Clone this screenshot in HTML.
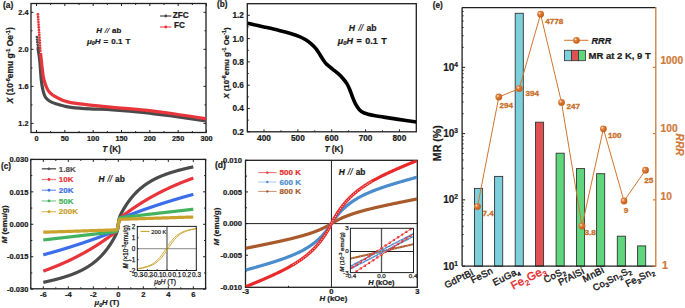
<!DOCTYPE html>
<html><head><meta charset="utf-8"><style>
html,body{margin:0;padding:0;background:#fff;width:685px;height:308px;overflow:hidden}
svg{display:block}
text{font-family:"Liberation Sans", sans-serif}
</style></head><body>
<svg width="685" height="308" viewBox="0 0 685 308">
<rect width="685" height="308" fill="#fff"/>
<line x1="36.50" y1="132.50" x2="36.50" y2="130.00" stroke="#1f1f1f" stroke-width="1" />
<line x1="36.50" y1="3.50" x2="36.50" y2="6.00" stroke="#1f1f1f" stroke-width="1" />
<line x1="50.67" y1="132.50" x2="50.67" y2="131.00" stroke="#1f1f1f" stroke-width="1" />
<line x1="50.67" y1="3.50" x2="50.67" y2="5.00" stroke="#1f1f1f" stroke-width="1" />
<line x1="64.83" y1="132.50" x2="64.83" y2="130.00" stroke="#1f1f1f" stroke-width="1" />
<line x1="64.83" y1="3.50" x2="64.83" y2="6.00" stroke="#1f1f1f" stroke-width="1" />
<line x1="79.00" y1="132.50" x2="79.00" y2="131.00" stroke="#1f1f1f" stroke-width="1" />
<line x1="79.00" y1="3.50" x2="79.00" y2="5.00" stroke="#1f1f1f" stroke-width="1" />
<line x1="93.17" y1="132.50" x2="93.17" y2="130.00" stroke="#1f1f1f" stroke-width="1" />
<line x1="93.17" y1="3.50" x2="93.17" y2="6.00" stroke="#1f1f1f" stroke-width="1" />
<line x1="107.33" y1="132.50" x2="107.33" y2="131.00" stroke="#1f1f1f" stroke-width="1" />
<line x1="107.33" y1="3.50" x2="107.33" y2="5.00" stroke="#1f1f1f" stroke-width="1" />
<line x1="121.50" y1="132.50" x2="121.50" y2="130.00" stroke="#1f1f1f" stroke-width="1" />
<line x1="121.50" y1="3.50" x2="121.50" y2="6.00" stroke="#1f1f1f" stroke-width="1" />
<line x1="135.67" y1="132.50" x2="135.67" y2="131.00" stroke="#1f1f1f" stroke-width="1" />
<line x1="135.67" y1="3.50" x2="135.67" y2="5.00" stroke="#1f1f1f" stroke-width="1" />
<line x1="149.83" y1="132.50" x2="149.83" y2="130.00" stroke="#1f1f1f" stroke-width="1" />
<line x1="149.83" y1="3.50" x2="149.83" y2="6.00" stroke="#1f1f1f" stroke-width="1" />
<line x1="164.00" y1="132.50" x2="164.00" y2="131.00" stroke="#1f1f1f" stroke-width="1" />
<line x1="164.00" y1="3.50" x2="164.00" y2="5.00" stroke="#1f1f1f" stroke-width="1" />
<line x1="178.17" y1="132.50" x2="178.17" y2="130.00" stroke="#1f1f1f" stroke-width="1" />
<line x1="178.17" y1="3.50" x2="178.17" y2="6.00" stroke="#1f1f1f" stroke-width="1" />
<line x1="192.33" y1="132.50" x2="192.33" y2="131.00" stroke="#1f1f1f" stroke-width="1" />
<line x1="192.33" y1="3.50" x2="192.33" y2="5.00" stroke="#1f1f1f" stroke-width="1" />
<line x1="206.50" y1="132.50" x2="206.50" y2="130.00" stroke="#1f1f1f" stroke-width="1" />
<line x1="206.50" y1="3.50" x2="206.50" y2="6.00" stroke="#1f1f1f" stroke-width="1" />
<line x1="31.00" y1="123.40" x2="33.50" y2="123.40" stroke="#1f1f1f" stroke-width="1" />
<line x1="206.00" y1="123.40" x2="203.50" y2="123.40" stroke="#1f1f1f" stroke-width="1" />
<text x="28.50" y="126.00" font-size="7.3" text-anchor="end" font-weight="bold" font-style="normal" fill="#1a1a1a"  stroke="#1a1a1a" stroke-width="0.22">1.2</text>
<line x1="31.00" y1="104.88" x2="32.50" y2="104.88" stroke="#1f1f1f" stroke-width="1" />
<line x1="206.00" y1="104.88" x2="204.50" y2="104.88" stroke="#1f1f1f" stroke-width="1" />
<line x1="31.00" y1="86.37" x2="33.50" y2="86.37" stroke="#1f1f1f" stroke-width="1" />
<line x1="206.00" y1="86.37" x2="203.50" y2="86.37" stroke="#1f1f1f" stroke-width="1" />
<text x="28.50" y="88.97" font-size="7.3" text-anchor="end" font-weight="bold" font-style="normal" fill="#1a1a1a"  stroke="#1a1a1a" stroke-width="0.22">1.6</text>
<line x1="31.00" y1="67.85" x2="32.50" y2="67.85" stroke="#1f1f1f" stroke-width="1" />
<line x1="206.00" y1="67.85" x2="204.50" y2="67.85" stroke="#1f1f1f" stroke-width="1" />
<line x1="31.00" y1="49.33" x2="33.50" y2="49.33" stroke="#1f1f1f" stroke-width="1" />
<line x1="206.00" y1="49.33" x2="203.50" y2="49.33" stroke="#1f1f1f" stroke-width="1" />
<text x="28.50" y="51.93" font-size="7.3" text-anchor="end" font-weight="bold" font-style="normal" fill="#1a1a1a"  stroke="#1a1a1a" stroke-width="0.22">2.0</text>
<line x1="31.00" y1="30.82" x2="32.50" y2="30.82" stroke="#1f1f1f" stroke-width="1" />
<line x1="206.00" y1="30.82" x2="204.50" y2="30.82" stroke="#1f1f1f" stroke-width="1" />
<line x1="31.00" y1="12.30" x2="33.50" y2="12.30" stroke="#1f1f1f" stroke-width="1" />
<line x1="206.00" y1="12.30" x2="203.50" y2="12.30" stroke="#1f1f1f" stroke-width="1" />
<text x="28.50" y="14.90" font-size="7.3" text-anchor="end" font-weight="bold" font-style="normal" fill="#1a1a1a"  stroke="#1a1a1a" stroke-width="0.22">2.4</text>
<line x1="31.00" y1="-6.22" x2="32.50" y2="-6.22" stroke="#1f1f1f" stroke-width="1" />
<line x1="206.00" y1="-6.22" x2="204.50" y2="-6.22" stroke="#1f1f1f" stroke-width="1" />
<text x="36.50" y="140.60" font-size="7.3" text-anchor="middle" font-weight="bold" font-style="normal" fill="#1a1a1a"  stroke="#1a1a1a" stroke-width="0.22">0</text>
<text x="64.83" y="140.60" font-size="7.3" text-anchor="middle" font-weight="bold" font-style="normal" fill="#1a1a1a"  stroke="#1a1a1a" stroke-width="0.22">50</text>
<text x="93.17" y="140.60" font-size="7.3" text-anchor="middle" font-weight="bold" font-style="normal" fill="#1a1a1a"  stroke="#1a1a1a" stroke-width="0.22">100</text>
<text x="121.50" y="140.60" font-size="7.3" text-anchor="middle" font-weight="bold" font-style="normal" fill="#1a1a1a"  stroke="#1a1a1a" stroke-width="0.22">150</text>
<text x="149.83" y="140.60" font-size="7.3" text-anchor="middle" font-weight="bold" font-style="normal" fill="#1a1a1a"  stroke="#1a1a1a" stroke-width="0.22">200</text>
<text x="178.17" y="140.60" font-size="7.3" text-anchor="middle" font-weight="bold" font-style="normal" fill="#1a1a1a"  stroke="#1a1a1a" stroke-width="0.22">250</text>
<text x="206.50" y="140.60" font-size="7.3" text-anchor="middle" font-weight="bold" font-style="normal" fill="#1a1a1a"  stroke="#1a1a1a" stroke-width="0.22">300</text>
<rect x="31.00" y="3.50" width="175.00" height="129.00" fill="none" stroke="#1f1f1f" stroke-width="1.3" />
<clipPath id="ca"><rect x="31" y="3.5" width="175.5" height="129"/></clipPath>
<path d="M38.00,48.00 C38.28,50.00 39.28,56.33 39.70,60.00 C40.12,63.67 40.23,66.67 40.50,70.00 C40.77,73.33 40.90,76.67 41.30,80.00 C41.70,83.33 42.23,87.17 42.90,90.00 C43.57,92.83 44.22,95.17 45.30,97.00 C46.38,98.83 47.50,99.83 49.40,101.00 C51.30,102.17 54.27,103.17 56.70,104.00 C59.13,104.83 61.62,105.45 64.00,106.00 C66.38,106.55 66.67,106.83 71.00,107.30 C75.33,107.77 83.00,108.38 90.00,108.80 C97.00,109.22 103.83,109.17 113.00,109.80 C122.17,110.43 134.67,111.48 145.00,112.60 C155.33,113.72 164.83,115.13 175.00,116.50 C185.17,117.87 200.83,120.08 206.00,120.80" fill="none" stroke="#4a4a4a" stroke-width="3.2" stroke-linejoin="round" stroke-linecap="butt" clip-path="url(#ca)"/>
<path d="M40.50,53.00 C40.63,54.17 40.98,57.17 41.30,60.00 C41.62,62.83 41.95,66.67 42.40,70.00 C42.85,73.33 43.10,76.67 44.00,80.00 C44.90,83.33 46.37,87.50 47.80,90.00 C49.23,92.50 50.57,93.50 52.60,95.00 C54.63,96.50 58.10,98.03 60.00,99.00 C61.90,99.97 62.17,100.20 64.00,100.80 C65.83,101.40 67.00,101.93 71.00,102.60 C75.00,103.27 81.00,104.02 88.00,104.80 C95.00,105.58 103.50,106.40 113.00,107.30 C122.50,108.20 134.67,109.08 145.00,110.20 C155.33,111.32 164.83,112.57 175.00,114.00 C185.17,115.43 200.83,118.00 206.00,118.80" fill="none" stroke="#e8353b" stroke-width="3.2" stroke-linejoin="round" stroke-linecap="butt" clip-path="url(#ca)"/>
<circle cx="37.91" cy="14.30" r="1.35" fill="#e8353b" />
<circle cx="38.09" cy="16.90" r="1.35" fill="#e8353b" />
<circle cx="38.26" cy="19.50" r="1.35" fill="#e8353b" />
<circle cx="38.43" cy="22.10" r="1.35" fill="#e8353b" />
<circle cx="38.61" cy="24.70" r="1.35" fill="#e8353b" />
<circle cx="38.78" cy="27.30" r="1.35" fill="#e8353b" />
<circle cx="38.96" cy="29.90" r="1.35" fill="#e8353b" />
<circle cx="39.13" cy="32.50" r="1.35" fill="#e8353b" />
<circle cx="39.30" cy="35.10" r="1.35" fill="#e8353b" />
<circle cx="39.48" cy="37.70" r="1.35" fill="#e8353b" />
<circle cx="39.65" cy="40.30" r="1.35" fill="#e8353b" />
<circle cx="39.82" cy="42.90" r="1.35" fill="#e8353b" />
<circle cx="40.00" cy="45.50" r="1.35" fill="#e8353b" />
<circle cx="40.17" cy="48.10" r="1.35" fill="#e8353b" />
<circle cx="40.35" cy="50.70" r="1.35" fill="#e8353b" />
<circle cx="36.90" cy="37.00" r="1.35" fill="#4a4a4a" />
<circle cx="37.16" cy="39.60" r="1.35" fill="#4a4a4a" />
<circle cx="37.42" cy="42.20" r="1.35" fill="#4a4a4a" />
<circle cx="37.68" cy="44.80" r="1.35" fill="#4a4a4a" />
<circle cx="37.94" cy="47.40" r="1.35" fill="#4a4a4a" />
<line x1="160.00" y1="16.00" x2="171.40" y2="16.00" stroke="#5a5a5a" stroke-width="1.3" />
<circle cx="165.80" cy="16.00" r="1.4" fill="#4a4a4a" />
<line x1="160.00" y1="27.00" x2="171.40" y2="27.00" stroke="#f06068" stroke-width="1.3" />
<circle cx="165.80" cy="27.00" r="1.4" fill="#e8353b" />
<text x="172.70" y="17.90" font-size="8.2" text-anchor="start" font-weight="bold" font-style="normal" fill="#1a1a1a"  stroke="#1a1a1a" stroke-width="0.22">ZFC</text>
<text x="174.00" y="27.80" font-size="8.2" text-anchor="start" font-weight="bold" font-style="normal" fill="#1a1a1a"  stroke="#1a1a1a" stroke-width="0.22">FC</text>
<text x="108.70" y="33.10" font-size="7.9" text-anchor="middle" font-weight="bold" font-style="normal" fill="#1a1a1a" word-spacing="0.7" stroke="#1a1a1a" stroke-width="0.22"><tspan font-style="italic">H</tspan> <tspan font-style="italic" font-weight="normal">//</tspan> ab</text>
<text x="108.70" y="43.60" font-size="8.0" text-anchor="middle" font-weight="bold" font-style="normal" fill="#1a1a1a" word-spacing="0.9" stroke="#1a1a1a" stroke-width="0.22"><tspan font-style="italic">μ</tspan><tspan font-size="5.2" dy="1.5" font-style="italic">0</tspan><tspan dy="-1.5" font-style="italic">H</tspan> = 0.1 T</text>
<text x="111.50" y="151.60" font-size="8.2" text-anchor="middle" font-weight="bold" font-style="normal" fill="#1a1a1a"  stroke="#1a1a1a" stroke-width="0.22"><tspan font-style="italic">T</tspan> (K)</text>
<text x="3.00" y="7.60" font-size="8.4" text-anchor="start" font-weight="bold" font-style="normal" fill="#1a1a1a"  stroke="#1a1a1a" stroke-width="0.22">(a)</text>
<text x="0.00" y="0.00" font-size="8.4" text-anchor="middle" font-weight="bold" font-style="normal" fill="#1a1a1a" transform="translate(13.0,65.2) rotate(-90)" stroke="#1a1a1a" stroke-width="0.22"><tspan font-style="italic">X</tspan> (10<tspan font-size="5.6" dy="-3.2">-6</tspan><tspan dy="3.2">emu g</tspan><tspan font-size="5.6" dy="-3.2">-1</tspan><tspan dy="3.2"> Oe</tspan><tspan font-size="5.6" dy="-3.2">-1</tspan><tspan dy="3.2">)</tspan></text>
<line x1="264.00" y1="131.80" x2="264.00" y2="129.30" stroke="#1f1f1f" stroke-width="1" />
<text x="264.00" y="140.90" font-size="8.3" text-anchor="middle" font-weight="bold" font-style="normal" fill="#1a1a1a"  stroke="#1a1a1a" stroke-width="0.22">400</text>
<line x1="280.93" y1="131.80" x2="280.93" y2="130.30" stroke="#1f1f1f" stroke-width="1" />
<line x1="297.85" y1="131.80" x2="297.85" y2="129.30" stroke="#1f1f1f" stroke-width="1" />
<text x="297.85" y="140.90" font-size="8.3" text-anchor="middle" font-weight="bold" font-style="normal" fill="#1a1a1a"  stroke="#1a1a1a" stroke-width="0.22">500</text>
<line x1="314.77" y1="131.80" x2="314.77" y2="130.30" stroke="#1f1f1f" stroke-width="1" />
<line x1="331.70" y1="131.80" x2="331.70" y2="129.30" stroke="#1f1f1f" stroke-width="1" />
<text x="331.70" y="140.90" font-size="8.3" text-anchor="middle" font-weight="bold" font-style="normal" fill="#1a1a1a"  stroke="#1a1a1a" stroke-width="0.22">600</text>
<line x1="348.62" y1="131.80" x2="348.62" y2="130.30" stroke="#1f1f1f" stroke-width="1" />
<line x1="365.55" y1="131.80" x2="365.55" y2="129.30" stroke="#1f1f1f" stroke-width="1" />
<text x="365.55" y="140.90" font-size="8.3" text-anchor="middle" font-weight="bold" font-style="normal" fill="#1a1a1a"  stroke="#1a1a1a" stroke-width="0.22">700</text>
<line x1="382.48" y1="131.80" x2="382.48" y2="130.30" stroke="#1f1f1f" stroke-width="1" />
<line x1="399.40" y1="131.80" x2="399.40" y2="129.30" stroke="#1f1f1f" stroke-width="1" />
<text x="399.40" y="140.90" font-size="8.3" text-anchor="middle" font-weight="bold" font-style="normal" fill="#1a1a1a"  stroke="#1a1a1a" stroke-width="0.22">800</text>
<line x1="247.30" y1="131.80" x2="249.80" y2="131.80" stroke="#1f1f1f" stroke-width="1" />
<text x="243.80" y="134.75" font-size="8.2" text-anchor="end" font-weight="bold" font-style="normal" fill="#1a1a1a"  stroke="#1a1a1a" stroke-width="0.22">0.2</text>
<line x1="247.30" y1="120.15" x2="248.80" y2="120.15" stroke="#1f1f1f" stroke-width="1" />
<line x1="247.30" y1="108.50" x2="249.80" y2="108.50" stroke="#1f1f1f" stroke-width="1" />
<text x="243.80" y="111.45" font-size="8.2" text-anchor="end" font-weight="bold" font-style="normal" fill="#1a1a1a"  stroke="#1a1a1a" stroke-width="0.22">0.4</text>
<line x1="247.30" y1="96.85" x2="248.80" y2="96.85" stroke="#1f1f1f" stroke-width="1" />
<line x1="247.30" y1="85.20" x2="249.80" y2="85.20" stroke="#1f1f1f" stroke-width="1" />
<text x="243.80" y="88.15" font-size="8.2" text-anchor="end" font-weight="bold" font-style="normal" fill="#1a1a1a"  stroke="#1a1a1a" stroke-width="0.22">0.6</text>
<line x1="247.30" y1="73.55" x2="248.80" y2="73.55" stroke="#1f1f1f" stroke-width="1" />
<line x1="247.30" y1="61.90" x2="249.80" y2="61.90" stroke="#1f1f1f" stroke-width="1" />
<text x="243.80" y="64.85" font-size="8.2" text-anchor="end" font-weight="bold" font-style="normal" fill="#1a1a1a"  stroke="#1a1a1a" stroke-width="0.22">0.8</text>
<line x1="247.30" y1="50.25" x2="248.80" y2="50.25" stroke="#1f1f1f" stroke-width="1" />
<line x1="247.30" y1="38.60" x2="249.80" y2="38.60" stroke="#1f1f1f" stroke-width="1" />
<text x="243.80" y="41.55" font-size="8.2" text-anchor="end" font-weight="bold" font-style="normal" fill="#1a1a1a"  stroke="#1a1a1a" stroke-width="0.22">1.0</text>
<line x1="247.30" y1="26.95" x2="248.80" y2="26.95" stroke="#1f1f1f" stroke-width="1" />
<line x1="247.30" y1="15.30" x2="249.80" y2="15.30" stroke="#1f1f1f" stroke-width="1" />
<text x="243.80" y="18.25" font-size="8.2" text-anchor="end" font-weight="bold" font-style="normal" fill="#1a1a1a"  stroke="#1a1a1a" stroke-width="0.22">1.2</text>
<rect x="247.30" y="3.70" width="169.00" height="128.10" fill="none" stroke="#1f1f1f" stroke-width="1.3" />
<clipPath id="cb"><rect x="247.3" y="3.7" width="169" height="128.1"/></clipPath>
<path d="M247.50,23.30 C250.25,23.92 258.58,25.77 264.00,27.00 C269.42,28.23 275.72,29.65 280.00,30.70 C284.28,31.75 286.45,32.32 289.70,33.30 C292.95,34.28 296.90,35.57 299.50,36.60 C302.10,37.63 303.35,38.30 305.30,39.50 C307.25,40.70 309.40,42.25 311.20,43.80 C313.00,45.35 314.63,46.98 316.10,48.80 C317.57,50.62 318.80,52.83 320.00,54.70 C321.20,56.57 322.17,58.38 323.30,60.00 C324.43,61.62 325.25,62.88 326.80,64.40 C328.35,65.92 330.65,67.52 332.60,69.10 C334.55,70.68 336.85,72.42 338.50,73.90 C340.15,75.38 341.13,76.42 342.50,78.00 C343.87,79.58 345.52,81.53 346.70,83.40 C347.88,85.27 348.63,86.93 349.60,89.20 C350.57,91.47 351.52,94.55 352.50,97.00 C353.48,99.45 354.35,101.78 355.50,103.90 C356.65,106.02 357.95,108.18 359.40,109.70 C360.85,111.22 361.77,112.02 364.20,113.00 C366.63,113.98 370.75,114.92 374.00,115.60 C377.25,116.28 379.63,116.47 383.70,117.10 C387.77,117.73 392.93,118.58 398.40,119.40 C403.87,120.22 413.48,121.57 416.50,122.00" fill="none" stroke="#000" stroke-width="3.6" stroke-linejoin="round" stroke-linecap="butt" clip-path="url(#cb)"/>
<text x="362.70" y="30.80" font-size="8.6" text-anchor="middle" font-weight="bold" font-style="normal" fill="#1a1a1a" word-spacing="1" stroke="#1a1a1a" stroke-width="0.22"><tspan font-style="italic">H</tspan> <tspan font-style="italic" font-weight="normal">//</tspan> ab</text>
<text x="362.20" y="43.50" font-size="9.0" text-anchor="middle" font-weight="bold" font-style="normal" fill="#1a1a1a" word-spacing="1" stroke="#1a1a1a" stroke-width="0.22"><tspan font-style="italic">μ</tspan><tspan font-size="5.8" dy="1.5" font-style="italic">0</tspan><tspan dy="-1.5" font-style="italic">H</tspan> = 0.1 T</text>
<text x="333.80" y="151.60" font-size="8.2" text-anchor="middle" font-weight="bold" font-style="normal" fill="#1a1a1a"  stroke="#1a1a1a" stroke-width="0.22"><tspan font-style="italic">T</tspan> (K)</text>
<text x="217.00" y="7.30" font-size="8.2" text-anchor="start" font-weight="bold" font-style="normal" fill="#1a1a1a"  stroke="#1a1a1a" stroke-width="0.22">(b)</text>
<text x="0.00" y="0.00" font-size="7.8" text-anchor="middle" font-weight="bold" font-style="normal" fill="#1a1a1a" transform="translate(228.8,63.0) rotate(-90)" stroke="#1a1a1a" stroke-width="0.22"><tspan font-style="italic">X</tspan> (10<tspan font-size="5.4" dy="-3.1">-6</tspan><tspan dy="3.1">emu g</tspan><tspan font-size="5.4" dy="-3.1">-1</tspan><tspan dy="3.1"> Oe</tspan><tspan font-size="5.4" dy="-3.1">-1</tspan><tspan dy="3.1">)</tspan></text>
<line x1="30.80" y1="288.80" x2="30.80" y2="287.30" stroke="#1f1f1f" stroke-width="1" />
<line x1="30.80" y1="159.40" x2="30.80" y2="160.90" stroke="#1f1f1f" stroke-width="1" />
<line x1="43.30" y1="288.80" x2="43.30" y2="286.30" stroke="#1f1f1f" stroke-width="1" />
<line x1="43.30" y1="159.40" x2="43.30" y2="161.90" stroke="#1f1f1f" stroke-width="1" />
<text x="43.30" y="297.00" font-size="7.6" text-anchor="middle" font-weight="bold" font-style="normal" fill="#1a1a1a"  stroke="#1a1a1a" stroke-width="0.22">-6</text>
<line x1="55.80" y1="288.80" x2="55.80" y2="287.30" stroke="#1f1f1f" stroke-width="1" />
<line x1="55.80" y1="159.40" x2="55.80" y2="160.90" stroke="#1f1f1f" stroke-width="1" />
<line x1="68.30" y1="288.80" x2="68.30" y2="286.30" stroke="#1f1f1f" stroke-width="1" />
<line x1="68.30" y1="159.40" x2="68.30" y2="161.90" stroke="#1f1f1f" stroke-width="1" />
<text x="68.30" y="297.00" font-size="7.6" text-anchor="middle" font-weight="bold" font-style="normal" fill="#1a1a1a"  stroke="#1a1a1a" stroke-width="0.22">-4</text>
<line x1="80.80" y1="288.80" x2="80.80" y2="287.30" stroke="#1f1f1f" stroke-width="1" />
<line x1="80.80" y1="159.40" x2="80.80" y2="160.90" stroke="#1f1f1f" stroke-width="1" />
<line x1="93.30" y1="288.80" x2="93.30" y2="286.30" stroke="#1f1f1f" stroke-width="1" />
<line x1="93.30" y1="159.40" x2="93.30" y2="161.90" stroke="#1f1f1f" stroke-width="1" />
<text x="93.30" y="297.00" font-size="7.6" text-anchor="middle" font-weight="bold" font-style="normal" fill="#1a1a1a"  stroke="#1a1a1a" stroke-width="0.22">-2</text>
<line x1="105.80" y1="288.80" x2="105.80" y2="287.30" stroke="#1f1f1f" stroke-width="1" />
<line x1="105.80" y1="159.40" x2="105.80" y2="160.90" stroke="#1f1f1f" stroke-width="1" />
<line x1="118.30" y1="288.80" x2="118.30" y2="286.30" stroke="#1f1f1f" stroke-width="1" />
<line x1="118.30" y1="159.40" x2="118.30" y2="161.90" stroke="#1f1f1f" stroke-width="1" />
<text x="118.30" y="297.00" font-size="7.6" text-anchor="middle" font-weight="bold" font-style="normal" fill="#1a1a1a"  stroke="#1a1a1a" stroke-width="0.22">0</text>
<line x1="130.80" y1="288.80" x2="130.80" y2="287.30" stroke="#1f1f1f" stroke-width="1" />
<line x1="130.80" y1="159.40" x2="130.80" y2="160.90" stroke="#1f1f1f" stroke-width="1" />
<line x1="143.30" y1="288.80" x2="143.30" y2="286.30" stroke="#1f1f1f" stroke-width="1" />
<line x1="143.30" y1="159.40" x2="143.30" y2="161.90" stroke="#1f1f1f" stroke-width="1" />
<text x="143.30" y="297.00" font-size="7.6" text-anchor="middle" font-weight="bold" font-style="normal" fill="#1a1a1a"  stroke="#1a1a1a" stroke-width="0.22">2</text>
<line x1="155.80" y1="288.80" x2="155.80" y2="287.30" stroke="#1f1f1f" stroke-width="1" />
<line x1="155.80" y1="159.40" x2="155.80" y2="160.90" stroke="#1f1f1f" stroke-width="1" />
<line x1="168.30" y1="288.80" x2="168.30" y2="286.30" stroke="#1f1f1f" stroke-width="1" />
<line x1="168.30" y1="159.40" x2="168.30" y2="161.90" stroke="#1f1f1f" stroke-width="1" />
<text x="168.30" y="297.00" font-size="7.6" text-anchor="middle" font-weight="bold" font-style="normal" fill="#1a1a1a"  stroke="#1a1a1a" stroke-width="0.22">4</text>
<line x1="180.80" y1="288.80" x2="180.80" y2="287.30" stroke="#1f1f1f" stroke-width="1" />
<line x1="180.80" y1="159.40" x2="180.80" y2="160.90" stroke="#1f1f1f" stroke-width="1" />
<line x1="193.30" y1="288.80" x2="193.30" y2="286.30" stroke="#1f1f1f" stroke-width="1" />
<line x1="193.30" y1="159.40" x2="193.30" y2="161.90" stroke="#1f1f1f" stroke-width="1" />
<text x="193.30" y="297.00" font-size="7.6" text-anchor="middle" font-weight="bold" font-style="normal" fill="#1a1a1a"  stroke="#1a1a1a" stroke-width="0.22">6</text>
<line x1="205.80" y1="288.80" x2="205.80" y2="287.30" stroke="#1f1f1f" stroke-width="1" />
<line x1="205.80" y1="159.40" x2="205.80" y2="160.90" stroke="#1f1f1f" stroke-width="1" />
<line x1="30.80" y1="289.20" x2="33.30" y2="289.20" stroke="#1f1f1f" stroke-width="1" />
<line x1="205.60" y1="289.20" x2="203.10" y2="289.20" stroke="#1f1f1f" stroke-width="1" />
<text x="28.40" y="291.90" font-size="7.5" text-anchor="end" font-weight="bold" font-style="normal" fill="#1a1a1a"  stroke="#1a1a1a" stroke-width="0.22">-0.030</text>
<line x1="30.80" y1="272.98" x2="32.30" y2="272.98" stroke="#1f1f1f" stroke-width="1" />
<line x1="205.60" y1="272.98" x2="204.10" y2="272.98" stroke="#1f1f1f" stroke-width="1" />
<line x1="30.80" y1="256.75" x2="33.30" y2="256.75" stroke="#1f1f1f" stroke-width="1" />
<line x1="205.60" y1="256.75" x2="203.10" y2="256.75" stroke="#1f1f1f" stroke-width="1" />
<text x="28.40" y="259.45" font-size="7.5" text-anchor="end" font-weight="bold" font-style="normal" fill="#1a1a1a"  stroke="#1a1a1a" stroke-width="0.22">-0.015</text>
<line x1="30.80" y1="240.53" x2="32.30" y2="240.53" stroke="#1f1f1f" stroke-width="1" />
<line x1="205.60" y1="240.53" x2="204.10" y2="240.53" stroke="#1f1f1f" stroke-width="1" />
<line x1="30.80" y1="224.30" x2="33.30" y2="224.30" stroke="#1f1f1f" stroke-width="1" />
<line x1="205.60" y1="224.30" x2="203.10" y2="224.30" stroke="#1f1f1f" stroke-width="1" />
<text x="28.40" y="227.00" font-size="7.5" text-anchor="end" font-weight="bold" font-style="normal" fill="#1a1a1a"  stroke="#1a1a1a" stroke-width="0.22">0.000</text>
<line x1="30.80" y1="208.08" x2="32.30" y2="208.08" stroke="#1f1f1f" stroke-width="1" />
<line x1="205.60" y1="208.08" x2="204.10" y2="208.08" stroke="#1f1f1f" stroke-width="1" />
<line x1="30.80" y1="191.85" x2="33.30" y2="191.85" stroke="#1f1f1f" stroke-width="1" />
<line x1="205.60" y1="191.85" x2="203.10" y2="191.85" stroke="#1f1f1f" stroke-width="1" />
<text x="28.40" y="194.55" font-size="7.5" text-anchor="end" font-weight="bold" font-style="normal" fill="#1a1a1a"  stroke="#1a1a1a" stroke-width="0.22">0.015</text>
<line x1="30.80" y1="175.62" x2="32.30" y2="175.62" stroke="#1f1f1f" stroke-width="1" />
<line x1="205.60" y1="175.62" x2="204.10" y2="175.62" stroke="#1f1f1f" stroke-width="1" />
<line x1="30.80" y1="159.40" x2="33.30" y2="159.40" stroke="#1f1f1f" stroke-width="1" />
<line x1="205.60" y1="159.40" x2="203.10" y2="159.40" stroke="#1f1f1f" stroke-width="1" />
<text x="28.40" y="162.10" font-size="7.5" text-anchor="end" font-weight="bold" font-style="normal" fill="#1a1a1a"  stroke="#1a1a1a" stroke-width="0.22">0.030</text>
<rect x="30.80" y="159.40" width="174.80" height="129.40" fill="none" stroke="#1f1f1f" stroke-width="1.3" />
<clipPath id="cc"><rect x="30.8" y="159.4" width="174.8" height="129.4"/></clipPath>
<path d="M43.30,282.33 L43.61,282.27 L43.92,282.20 L44.24,282.13 L44.55,282.07 L44.86,282.00 L45.17,281.93 L45.49,281.87 L45.80,281.80 L46.11,281.73 L46.42,281.66 L46.74,281.59 L47.05,281.52 L47.36,281.45 L47.67,281.38 L47.99,281.31 L48.30,281.24 L48.61,281.17 L48.92,281.10 L49.24,281.03 L49.55,280.96 L49.86,280.89 L50.17,280.81 L50.49,280.74 L50.80,280.67 L51.11,280.60 L51.42,280.52 L51.74,280.45 L52.05,280.37 L52.36,280.30 L52.67,280.22 L52.99,280.15 L53.30,280.07 L53.61,279.99 L53.92,279.92 L54.24,279.84 L54.55,279.76 L54.86,279.68 L55.17,279.60 L55.49,279.52 L55.80,279.44 L56.11,279.36 L56.42,279.28 L56.74,279.20 L57.05,279.12 L57.36,279.04 L57.68,278.95 L57.99,278.87 L58.30,278.79 L58.61,278.70 L58.92,278.62 L59.24,278.53 L59.55,278.44 L59.86,278.36 L60.17,278.27 L60.49,278.18 L60.80,278.09 L61.11,278.00 L61.42,277.91 L61.74,277.82 L62.05,277.73 L62.36,277.64 L62.67,277.55 L62.99,277.46 L63.30,277.36 L63.61,277.27 L63.93,277.17 L64.24,277.08 L64.55,276.98 L64.86,276.88 L65.17,276.79 L65.49,276.69 L65.80,276.59 L66.11,276.49 L66.42,276.39 L66.74,276.29 L67.05,276.18 L67.36,276.08 L67.67,275.98 L67.99,275.87 L68.30,275.77 L68.61,275.66 L68.92,275.55 L69.24,275.44 L69.55,275.33 L69.86,275.22 L70.17,275.11 L70.49,275.00 L70.80,274.89 L71.11,274.77 L71.42,274.66 L71.74,274.54 L72.05,274.42 L72.36,274.31 L72.67,274.19 L72.99,274.07 L73.30,273.94 L73.61,273.82 L73.92,273.70 L74.24,273.57 L74.55,273.45 L74.86,273.32 L75.17,273.19 L75.49,273.06 L75.80,272.93 L76.11,272.80 L76.43,272.67 L76.74,272.53 L77.05,272.40 L77.36,272.26 L77.67,272.12 L77.99,271.98 L78.30,271.84 L78.61,271.70 L78.92,271.56 L79.24,271.41 L79.55,271.26 L79.86,271.12 L80.17,270.97 L80.49,270.81 L80.80,270.66 L81.11,270.51 L81.42,270.35 L81.74,270.19 L82.05,270.04 L82.36,269.87 L82.68,269.71 L82.99,269.55 L83.30,269.38 L83.61,269.21 L83.92,269.04 L84.24,268.87 L84.55,268.70 L84.86,268.53 L85.17,268.35 L85.49,268.17 L85.80,267.99 L86.11,267.81 L86.42,267.62 L86.74,267.43 L87.05,267.25 L87.36,267.05 L87.67,266.86 L87.99,266.67 L88.30,266.47 L88.61,266.27 L88.92,266.07 L89.24,265.86 L89.55,265.65 L89.86,265.45 L90.17,265.23 L90.49,265.02 L90.80,264.80 L91.11,264.59 L91.42,264.36 L91.74,264.14 L92.05,263.91 L92.36,263.68 L92.67,263.45 L92.99,263.22 L93.30,262.98 L93.61,262.74 L93.92,262.49 L94.24,262.25 L94.55,262.00 L94.86,261.75 L95.17,261.49 L95.49,261.23 L95.80,260.97 L96.11,260.71 L96.42,260.44 L96.74,260.17 L97.05,259.89 L97.36,259.61 L97.68,259.33 L97.99,259.05 L98.30,258.76 L98.61,258.47 L98.92,258.17 L99.24,257.87 L99.55,257.57 L99.86,257.26 L100.17,256.95 L100.49,256.64 L100.80,256.32 L101.11,255.99 L101.42,255.67 L101.74,255.34 L102.05,255.00 L102.36,254.66 L102.67,254.32 L102.99,253.97 L103.30,253.62 L103.61,253.26 L103.93,252.90 L104.24,252.53 L104.55,252.16 L104.86,251.78 L105.17,251.40 L105.49,251.01 L105.80,250.62 L106.11,250.22 L106.43,249.82 L106.74,249.42 L107.05,249.00 L107.36,248.59 L107.67,248.16 L107.99,247.73 L108.30,247.30 L108.61,246.86 L108.92,246.41 L109.24,245.96 L109.55,245.50 L109.86,245.04 L110.18,244.56 L110.49,244.09 L110.80,243.60 L111.11,243.11 L111.42,242.62 L111.74,242.11 L112.05,241.60 L112.36,241.09 L112.68,240.56 L112.99,240.03 L113.30,239.49 L113.61,238.95 L113.92,238.39 L114.24,237.83 L114.55,237.26 L114.86,236.68 L115.17,236.10 L115.49,235.49 L115.80,234.88 L116.11,234.23 L116.42,233.54 L116.74,232.78 L117.05,231.86 L117.36,230.69 L117.67,229.12 L117.99,227.05 L118.30,224.60 L118.61,222.15 L118.93,220.08 L119.24,218.51 L119.55,217.34 L119.86,216.42 L120.17,215.66 L120.49,214.97 L120.80,214.32 L121.11,213.71 L121.42,213.10 L121.74,212.52 L122.05,211.94 L122.36,211.37 L122.68,210.81 L122.99,210.25 L123.30,209.71 L123.61,209.17 L123.92,208.64 L124.24,208.11 L124.55,207.60 L124.86,207.09 L125.18,206.58 L125.49,206.09 L125.80,205.60 L126.11,205.11 L126.42,204.64 L126.74,204.16 L127.05,203.70 L127.36,203.24 L127.67,202.79 L127.99,202.34 L128.30,201.90 L128.61,201.47 L128.93,201.04 L129.24,200.61 L129.55,200.20 L129.86,199.78 L130.18,199.38 L130.49,198.98 L130.80,198.58 L131.11,198.19 L131.43,197.80 L131.74,197.42 L132.05,197.04 L132.36,196.67 L132.68,196.30 L132.99,195.94 L133.30,195.58 L133.61,195.23 L133.93,194.88 L134.24,194.54 L134.55,194.20 L134.86,193.86 L135.18,193.53 L135.49,193.21 L135.80,192.88 L136.11,192.56 L136.43,192.25 L136.74,191.94 L137.05,191.63 L137.36,191.33 L137.68,191.03 L137.99,190.73 L138.30,190.44 L138.61,190.15 L138.93,189.87 L139.24,189.59 L139.55,189.31 L139.86,189.03 L140.18,188.76 L140.49,188.49 L140.80,188.23 L141.11,187.97 L141.43,187.71 L141.74,187.45 L142.05,187.20 L142.36,186.95 L142.68,186.71 L142.99,186.46 L143.30,186.22 L143.61,185.98 L143.93,185.75 L144.24,185.52 L144.55,185.29 L144.86,185.06 L145.18,184.84 L145.49,184.61 L145.80,184.40 L146.11,184.18 L146.43,183.97 L146.74,183.75 L147.05,183.55 L147.36,183.34 L147.67,183.13 L147.99,182.93 L148.30,182.73 L148.61,182.53 L148.93,182.34 L149.24,182.15 L149.55,181.95 L149.86,181.77 L150.18,181.58 L150.49,181.39 L150.80,181.21 L151.11,181.03 L151.43,180.85 L151.74,180.67 L152.05,180.50 L152.36,180.33 L152.68,180.16 L152.99,179.99 L153.30,179.82 L153.61,179.65 L153.92,179.49 L154.24,179.33 L154.55,179.16 L154.86,179.01 L155.18,178.85 L155.49,178.69 L155.80,178.54 L156.11,178.39 L156.43,178.23 L156.74,178.08 L157.05,177.94 L157.36,177.79 L157.68,177.64 L157.99,177.50 L158.30,177.36 L158.61,177.22 L158.93,177.08 L159.24,176.94 L159.55,176.80 L159.86,176.67 L160.17,176.53 L160.49,176.40 L160.80,176.27 L161.11,176.14 L161.43,176.01 L161.74,175.88 L162.05,175.75 L162.36,175.63 L162.68,175.50 L162.99,175.38 L163.30,175.26 L163.61,175.13 L163.93,175.01 L164.24,174.89 L164.55,174.78 L164.86,174.66 L165.18,174.54 L165.49,174.43 L165.80,174.31 L166.11,174.20 L166.43,174.09 L166.74,173.98 L167.05,173.87 L167.36,173.76 L167.68,173.65 L167.99,173.54 L168.30,173.43 L168.61,173.33 L168.93,173.22 L169.24,173.12 L169.55,173.02 L169.86,172.91 L170.18,172.81 L170.49,172.71 L170.80,172.61 L171.11,172.51 L171.43,172.41 L171.74,172.32 L172.05,172.22 L172.36,172.12 L172.68,172.03 L172.99,171.93 L173.30,171.84 L173.61,171.74 L173.93,171.65 L174.24,171.56 L174.55,171.47 L174.86,171.38 L175.18,171.29 L175.49,171.20 L175.80,171.11 L176.11,171.02 L176.43,170.93 L176.74,170.84 L177.05,170.76 L177.36,170.67 L177.68,170.58 L177.99,170.50 L178.30,170.41 L178.61,170.33 L178.93,170.25 L179.24,170.16 L179.55,170.08 L179.86,170.00 L180.18,169.92 L180.49,169.84 L180.80,169.76 L181.11,169.68 L181.43,169.60 L181.74,169.52 L182.05,169.44 L182.36,169.36 L182.68,169.28 L182.99,169.21 L183.30,169.13 L183.61,169.05 L183.93,168.98 L184.24,168.90 L184.55,168.83 L184.86,168.75 L185.18,168.68 L185.49,168.60 L185.80,168.53 L186.11,168.46 L186.43,168.39 L186.74,168.31 L187.05,168.24 L187.36,168.17 L187.68,168.10 L187.99,168.03 L188.30,167.96 L188.61,167.89 L188.93,167.82 L189.24,167.75 L189.55,167.68 L189.86,167.61 L190.18,167.54 L190.49,167.47 L190.80,167.40 L191.11,167.33 L191.43,167.27 L191.74,167.20 L192.05,167.13 L192.36,167.07 L192.68,167.00 L192.99,166.93 L193.30,166.87" fill="none" stroke="#4b4b4b" stroke-width="3.2" stroke-linejoin="round" stroke-linecap="butt" clip-path="url(#cc)"/>
<path d="M43.30,271.09 L43.61,270.98 L43.92,270.87 L44.24,270.76 L44.55,270.65 L44.86,270.53 L45.17,270.42 L45.49,270.31 L45.80,270.19 L46.11,270.08 L46.42,269.96 L46.74,269.85 L47.05,269.73 L47.36,269.62 L47.67,269.50 L47.99,269.38 L48.30,269.27 L48.61,269.15 L48.92,269.03 L49.24,268.91 L49.55,268.79 L49.86,268.67 L50.17,268.55 L50.49,268.43 L50.80,268.31 L51.11,268.19 L51.42,268.07 L51.74,267.95 L52.05,267.83 L52.36,267.71 L52.67,267.58 L52.99,267.46 L53.30,267.34 L53.61,267.21 L53.92,267.09 L54.24,266.96 L54.55,266.84 L54.86,266.71 L55.17,266.58 L55.49,266.46 L55.80,266.33 L56.11,266.20 L56.42,266.07 L56.74,265.95 L57.05,265.82 L57.36,265.69 L57.68,265.56 L57.99,265.43 L58.30,265.30 L58.61,265.17 L58.92,265.03 L59.24,264.90 L59.55,264.77 L59.86,264.64 L60.17,264.50 L60.49,264.37 L60.80,264.23 L61.11,264.10 L61.42,263.96 L61.74,263.83 L62.05,263.69 L62.36,263.56 L62.67,263.42 L62.99,263.28 L63.30,263.14 L63.61,263.01 L63.93,262.87 L64.24,262.73 L64.55,262.59 L64.86,262.45 L65.17,262.31 L65.49,262.16 L65.80,262.02 L66.11,261.88 L66.42,261.74 L66.74,261.59 L67.05,261.45 L67.36,261.31 L67.67,261.16 L67.99,261.02 L68.30,260.87 L68.61,260.72 L68.92,260.58 L69.24,260.43 L69.55,260.28 L69.86,260.13 L70.17,259.98 L70.49,259.84 L70.80,259.69 L71.11,259.54 L71.42,259.38 L71.74,259.23 L72.05,259.08 L72.36,258.93 L72.67,258.78 L72.99,258.62 L73.30,258.47 L73.61,258.31 L73.92,258.16 L74.24,258.00 L74.55,257.85 L74.86,257.69 L75.17,257.53 L75.49,257.38 L75.80,257.22 L76.11,257.06 L76.43,256.90 L76.74,256.74 L77.05,256.58 L77.36,256.42 L77.67,256.26 L77.99,256.10 L78.30,255.93 L78.61,255.77 L78.92,255.61 L79.24,255.44 L79.55,255.28 L79.86,255.11 L80.17,254.95 L80.49,254.78 L80.80,254.61 L81.11,254.44 L81.42,254.28 L81.74,254.11 L82.05,253.94 L82.36,253.77 L82.68,253.60 L82.99,253.43 L83.30,253.25 L83.61,253.08 L83.92,252.91 L84.24,252.74 L84.55,252.56 L84.86,252.39 L85.17,252.21 L85.49,252.04 L85.80,251.86 L86.11,251.68 L86.42,251.51 L86.74,251.33 L87.05,251.15 L87.36,250.97 L87.67,250.79 L87.99,250.61 L88.30,250.43 L88.61,250.24 L88.92,250.06 L89.24,249.88 L89.55,249.69 L89.86,249.51 L90.17,249.33 L90.49,249.14 L90.80,248.95 L91.11,248.77 L91.42,248.58 L91.74,248.39 L92.05,248.20 L92.36,248.01 L92.67,247.82 L92.99,247.63 L93.30,247.44 L93.61,247.25 L93.92,247.05 L94.24,246.86 L94.55,246.67 L94.86,246.47 L95.17,246.28 L95.49,246.08 L95.80,245.88 L96.11,245.69 L96.42,245.49 L96.74,245.29 L97.05,245.09 L97.36,244.89 L97.68,244.69 L97.99,244.49 L98.30,244.29 L98.61,244.08 L98.92,243.88 L99.24,243.67 L99.55,243.47 L99.86,243.26 L100.17,243.06 L100.49,242.85 L100.80,242.64 L101.11,242.43 L101.42,242.23 L101.74,242.02 L102.05,241.80 L102.36,241.59 L102.67,241.38 L102.99,241.17 L103.30,240.95 L103.61,240.74 L103.93,240.53 L104.24,240.31 L104.55,240.09 L104.86,239.88 L105.17,239.66 L105.49,239.44 L105.80,239.22 L106.11,239.00 L106.43,238.78 L106.74,238.56 L107.05,238.33 L107.36,238.11 L107.67,237.89 L107.99,237.66 L108.30,237.44 L108.61,237.21 L108.92,236.98 L109.24,236.76 L109.55,236.53 L109.86,236.30 L110.18,236.07 L110.49,235.84 L110.80,235.61 L111.11,235.37 L111.42,235.14 L111.74,234.91 L112.05,234.67 L112.36,234.43 L112.68,234.20 L112.99,233.96 L113.30,233.72 L113.61,233.48 L113.92,233.24 L114.24,233.00 L114.55,232.76 L114.86,232.52 L115.17,232.27 L115.49,232.02 L115.80,231.75 L116.11,231.47 L116.42,231.15 L116.74,230.76 L117.05,230.24 L117.36,229.46 L117.67,228.29 L117.99,226.63 L118.30,224.60 L118.61,222.57 L118.93,220.91 L119.24,219.74 L119.55,218.96 L119.86,218.44 L120.17,218.05 L120.49,217.73 L120.80,217.45 L121.11,217.18 L121.42,216.93 L121.74,216.68 L122.05,216.44 L122.36,216.20 L122.68,215.96 L122.99,215.72 L123.30,215.48 L123.61,215.24 L123.92,215.00 L124.24,214.77 L124.55,214.53 L124.86,214.29 L125.18,214.06 L125.49,213.83 L125.80,213.59 L126.11,213.36 L126.42,213.13 L126.74,212.90 L127.05,212.67 L127.36,212.44 L127.67,212.22 L127.99,211.99 L128.30,211.76 L128.61,211.54 L128.93,211.31 L129.24,211.09 L129.55,210.87 L129.86,210.64 L130.18,210.42 L130.49,210.20 L130.80,209.98 L131.11,209.76 L131.43,209.54 L131.74,209.32 L132.05,209.11 L132.36,208.89 L132.68,208.67 L132.99,208.46 L133.30,208.25 L133.61,208.03 L133.93,207.82 L134.24,207.61 L134.55,207.40 L134.86,207.18 L135.18,206.97 L135.49,206.77 L135.80,206.56 L136.11,206.35 L136.43,206.14 L136.74,205.94 L137.05,205.73 L137.36,205.53 L137.68,205.32 L137.99,205.12 L138.30,204.91 L138.61,204.71 L138.93,204.51 L139.24,204.31 L139.55,204.11 L139.86,203.91 L140.18,203.71 L140.49,203.51 L140.80,203.32 L141.11,203.12 L141.43,202.92 L141.74,202.73 L142.05,202.53 L142.36,202.34 L142.68,202.15 L142.99,201.95 L143.30,201.76 L143.61,201.57 L143.93,201.38 L144.24,201.19 L144.55,201.00 L144.86,200.81 L145.18,200.62 L145.49,200.43 L145.80,200.25 L146.11,200.06 L146.43,199.87 L146.74,199.69 L147.05,199.51 L147.36,199.32 L147.67,199.14 L147.99,198.96 L148.30,198.77 L148.61,198.59 L148.93,198.41 L149.24,198.23 L149.55,198.05 L149.86,197.87 L150.18,197.69 L150.49,197.52 L150.80,197.34 L151.11,197.16 L151.43,196.99 L151.74,196.81 L152.05,196.64 L152.36,196.46 L152.68,196.29 L152.99,196.12 L153.30,195.95 L153.61,195.77 L153.92,195.60 L154.24,195.43 L154.55,195.26 L154.86,195.09 L155.18,194.92 L155.49,194.76 L155.80,194.59 L156.11,194.42 L156.43,194.25 L156.74,194.09 L157.05,193.92 L157.36,193.76 L157.68,193.59 L157.99,193.43 L158.30,193.27 L158.61,193.10 L158.93,192.94 L159.24,192.78 L159.55,192.62 L159.86,192.46 L160.17,192.30 L160.49,192.14 L160.80,191.98 L161.11,191.82 L161.43,191.67 L161.74,191.51 L162.05,191.35 L162.36,191.20 L162.68,191.04 L162.99,190.89 L163.30,190.73 L163.61,190.58 L163.93,190.42 L164.24,190.27 L164.55,190.12 L164.86,189.97 L165.18,189.82 L165.49,189.66 L165.80,189.51 L166.11,189.36 L166.43,189.22 L166.74,189.07 L167.05,188.92 L167.36,188.77 L167.68,188.62 L167.99,188.48 L168.30,188.33 L168.61,188.18 L168.93,188.04 L169.24,187.89 L169.55,187.75 L169.86,187.61 L170.18,187.46 L170.49,187.32 L170.80,187.18 L171.11,187.04 L171.43,186.89 L171.74,186.75 L172.05,186.61 L172.36,186.47 L172.68,186.33 L172.99,186.19 L173.30,186.06 L173.61,185.92 L173.93,185.78 L174.24,185.64 L174.55,185.51 L174.86,185.37 L175.18,185.24 L175.49,185.10 L175.80,184.97 L176.11,184.83 L176.43,184.70 L176.74,184.56 L177.05,184.43 L177.36,184.30 L177.68,184.17 L177.99,184.03 L178.30,183.90 L178.61,183.77 L178.93,183.64 L179.24,183.51 L179.55,183.38 L179.86,183.25 L180.18,183.13 L180.49,183.00 L180.80,182.87 L181.11,182.74 L181.43,182.62 L181.74,182.49 L182.05,182.36 L182.36,182.24 L182.68,182.11 L182.99,181.99 L183.30,181.86 L183.61,181.74 L183.93,181.62 L184.24,181.49 L184.55,181.37 L184.86,181.25 L185.18,181.13 L185.49,181.01 L185.80,180.89 L186.11,180.77 L186.43,180.65 L186.74,180.53 L187.05,180.41 L187.36,180.29 L187.68,180.17 L187.99,180.05 L188.30,179.93 L188.61,179.82 L188.93,179.70 L189.24,179.58 L189.55,179.47 L189.86,179.35 L190.18,179.24 L190.49,179.12 L190.80,179.01 L191.11,178.89 L191.43,178.78 L191.74,178.67 L192.05,178.55 L192.36,178.44 L192.68,178.33 L192.99,178.22 L193.30,178.11" fill="none" stroke="#e8353b" stroke-width="3.2" stroke-linejoin="round" stroke-linecap="butt" clip-path="url(#cc)"/>
<path d="M43.30,254.84 L43.61,254.75 L43.92,254.67 L44.24,254.58 L44.55,254.50 L44.86,254.41 L45.17,254.33 L45.49,254.24 L45.80,254.16 L46.11,254.07 L46.42,253.99 L46.74,253.90 L47.05,253.81 L47.36,253.73 L47.67,253.64 L47.99,253.55 L48.30,253.47 L48.61,253.38 L48.92,253.29 L49.24,253.21 L49.55,253.12 L49.86,253.03 L50.17,252.94 L50.49,252.86 L50.80,252.77 L51.11,252.68 L51.42,252.59 L51.74,252.50 L52.05,252.42 L52.36,252.33 L52.67,252.24 L52.99,252.15 L53.30,252.06 L53.61,251.97 L53.92,251.88 L54.24,251.79 L54.55,251.70 L54.86,251.61 L55.17,251.52 L55.49,251.43 L55.80,251.34 L56.11,251.25 L56.42,251.16 L56.74,251.07 L57.05,250.98 L57.36,250.89 L57.68,250.80 L57.99,250.71 L58.30,250.62 L58.61,250.52 L58.92,250.43 L59.24,250.34 L59.55,250.25 L59.86,250.16 L60.17,250.06 L60.49,249.97 L60.80,249.88 L61.11,249.78 L61.42,249.69 L61.74,249.60 L62.05,249.50 L62.36,249.41 L62.67,249.32 L62.99,249.22 L63.30,249.13 L63.61,249.04 L63.93,248.94 L64.24,248.85 L64.55,248.75 L64.86,248.66 L65.17,248.56 L65.49,248.47 L65.80,248.37 L66.11,248.28 L66.42,248.18 L66.74,248.08 L67.05,247.99 L67.36,247.89 L67.67,247.80 L67.99,247.70 L68.30,247.60 L68.61,247.51 L68.92,247.41 L69.24,247.31 L69.55,247.21 L69.86,247.12 L70.17,247.02 L70.49,246.92 L70.80,246.82 L71.11,246.72 L71.42,246.63 L71.74,246.53 L72.05,246.43 L72.36,246.33 L72.67,246.23 L72.99,246.13 L73.30,246.03 L73.61,245.93 L73.92,245.83 L74.24,245.73 L74.55,245.63 L74.86,245.53 L75.17,245.43 L75.49,245.33 L75.80,245.23 L76.11,245.13 L76.43,245.03 L76.74,244.93 L77.05,244.83 L77.36,244.73 L77.67,244.62 L77.99,244.52 L78.30,244.42 L78.61,244.32 L78.92,244.22 L79.24,244.11 L79.55,244.01 L79.86,243.91 L80.17,243.80 L80.49,243.70 L80.80,243.60 L81.11,243.49 L81.42,243.39 L81.74,243.29 L82.05,243.18 L82.36,243.08 L82.68,242.97 L82.99,242.87 L83.30,242.76 L83.61,242.66 L83.92,242.55 L84.24,242.45 L84.55,242.34 L84.86,242.24 L85.17,242.13 L85.49,242.02 L85.80,241.92 L86.11,241.81 L86.42,241.70 L86.74,241.60 L87.05,241.49 L87.36,241.38 L87.67,241.27 L87.99,241.17 L88.30,241.06 L88.61,240.95 L88.92,240.84 L89.24,240.73 L89.55,240.63 L89.86,240.52 L90.17,240.41 L90.49,240.30 L90.80,240.19 L91.11,240.08 L91.42,239.97 L91.74,239.86 L92.05,239.75 L92.36,239.64 L92.67,239.53 L92.99,239.42 L93.30,239.31 L93.61,239.20 L93.92,239.09 L94.24,238.97 L94.55,238.86 L94.86,238.75 L95.17,238.64 L95.49,238.53 L95.80,238.41 L96.11,238.30 L96.42,238.19 L96.74,238.08 L97.05,237.96 L97.36,237.85 L97.68,237.74 L97.99,237.62 L98.30,237.51 L98.61,237.40 L98.92,237.28 L99.24,237.17 L99.55,237.05 L99.86,236.94 L100.17,236.82 L100.49,236.71 L100.80,236.59 L101.11,236.48 L101.42,236.36 L101.74,236.24 L102.05,236.13 L102.36,236.01 L102.67,235.89 L102.99,235.78 L103.30,235.66 L103.61,235.54 L103.93,235.43 L104.24,235.31 L104.55,235.19 L104.86,235.07 L105.17,234.95 L105.49,234.84 L105.80,234.72 L106.11,234.60 L106.43,234.48 L106.74,234.36 L107.05,234.24 L107.36,234.12 L107.67,234.00 L107.99,233.88 L108.30,233.76 L108.61,233.64 L108.92,233.52 L109.24,233.40 L109.55,233.28 L109.86,233.16 L110.18,233.03 L110.49,232.91 L110.80,232.79 L111.11,232.67 L111.42,232.55 L111.74,232.42 L112.05,232.30 L112.36,232.18 L112.68,232.05 L112.99,231.93 L113.30,231.81 L113.61,231.68 L113.92,231.56 L114.24,231.43 L114.55,231.31 L114.86,231.18 L115.17,231.05 L115.49,230.92 L115.80,230.78 L116.11,230.62 L116.42,230.42 L116.74,230.15 L117.05,229.74 L117.36,229.09 L117.67,228.04 L117.99,226.51 L118.30,224.60 L118.61,222.69 L118.93,221.16 L119.24,220.11 L119.55,219.46 L119.86,219.05 L120.17,218.78 L120.49,218.58 L120.80,218.42 L121.11,218.28 L121.42,218.15 L121.74,218.02 L122.05,217.89 L122.36,217.77 L122.68,217.64 L122.99,217.52 L123.30,217.39 L123.61,217.27 L123.92,217.15 L124.24,217.02 L124.55,216.90 L124.86,216.78 L125.18,216.65 L125.49,216.53 L125.80,216.41 L126.11,216.29 L126.42,216.17 L126.74,216.04 L127.05,215.92 L127.36,215.80 L127.67,215.68 L127.99,215.56 L128.30,215.44 L128.61,215.32 L128.93,215.20 L129.24,215.08 L129.55,214.96 L129.86,214.84 L130.18,214.72 L130.49,214.60 L130.80,214.48 L131.11,214.36 L131.43,214.25 L131.74,214.13 L132.05,214.01 L132.36,213.89 L132.68,213.77 L132.99,213.66 L133.30,213.54 L133.61,213.42 L133.93,213.31 L134.24,213.19 L134.55,213.07 L134.86,212.96 L135.18,212.84 L135.49,212.72 L135.80,212.61 L136.11,212.49 L136.43,212.38 L136.74,212.26 L137.05,212.15 L137.36,212.03 L137.68,211.92 L137.99,211.80 L138.30,211.69 L138.61,211.58 L138.93,211.46 L139.24,211.35 L139.55,211.24 L139.86,211.12 L140.18,211.01 L140.49,210.90 L140.80,210.79 L141.11,210.67 L141.43,210.56 L141.74,210.45 L142.05,210.34 L142.36,210.23 L142.68,210.11 L142.99,210.00 L143.30,209.89 L143.61,209.78 L143.93,209.67 L144.24,209.56 L144.55,209.45 L144.86,209.34 L145.18,209.23 L145.49,209.12 L145.80,209.01 L146.11,208.90 L146.43,208.79 L146.74,208.68 L147.05,208.57 L147.36,208.47 L147.67,208.36 L147.99,208.25 L148.30,208.14 L148.61,208.03 L148.93,207.93 L149.24,207.82 L149.55,207.71 L149.86,207.60 L150.18,207.50 L150.49,207.39 L150.80,207.28 L151.11,207.18 L151.43,207.07 L151.74,206.96 L152.05,206.86 L152.36,206.75 L152.68,206.65 L152.99,206.54 L153.30,206.44 L153.61,206.33 L153.92,206.23 L154.24,206.12 L154.55,206.02 L154.86,205.91 L155.18,205.81 L155.49,205.71 L155.80,205.60 L156.11,205.50 L156.43,205.40 L156.74,205.29 L157.05,205.19 L157.36,205.09 L157.68,204.98 L157.99,204.88 L158.30,204.78 L158.61,204.68 L158.93,204.58 L159.24,204.47 L159.55,204.37 L159.86,204.27 L160.17,204.17 L160.49,204.07 L160.80,203.97 L161.11,203.87 L161.43,203.77 L161.74,203.67 L162.05,203.57 L162.36,203.47 L162.68,203.37 L162.99,203.27 L163.30,203.17 L163.61,203.07 L163.93,202.97 L164.24,202.87 L164.55,202.77 L164.86,202.67 L165.18,202.57 L165.49,202.48 L165.80,202.38 L166.11,202.28 L166.43,202.18 L166.74,202.08 L167.05,201.99 L167.36,201.89 L167.68,201.79 L167.99,201.69 L168.30,201.60 L168.61,201.50 L168.93,201.40 L169.24,201.31 L169.55,201.21 L169.86,201.12 L170.18,201.02 L170.49,200.92 L170.80,200.83 L171.11,200.73 L171.43,200.64 L171.74,200.54 L172.05,200.45 L172.36,200.35 L172.68,200.26 L172.99,200.16 L173.30,200.07 L173.61,199.98 L173.93,199.88 L174.24,199.79 L174.55,199.70 L174.86,199.60 L175.18,199.51 L175.49,199.42 L175.80,199.32 L176.11,199.23 L176.43,199.14 L176.74,199.04 L177.05,198.95 L177.36,198.86 L177.68,198.77 L177.99,198.68 L178.30,198.58 L178.61,198.49 L178.93,198.40 L179.24,198.31 L179.55,198.22 L179.86,198.13 L180.18,198.04 L180.49,197.95 L180.80,197.86 L181.11,197.77 L181.43,197.68 L181.74,197.59 L182.05,197.50 L182.36,197.41 L182.68,197.32 L182.99,197.23 L183.30,197.14 L183.61,197.05 L183.93,196.96 L184.24,196.87 L184.55,196.78 L184.86,196.70 L185.18,196.61 L185.49,196.52 L185.80,196.43 L186.11,196.34 L186.43,196.26 L186.74,196.17 L187.05,196.08 L187.36,195.99 L187.68,195.91 L187.99,195.82 L188.30,195.73 L188.61,195.65 L188.93,195.56 L189.24,195.47 L189.55,195.39 L189.86,195.30 L190.18,195.21 L190.49,195.13 L190.80,195.04 L191.11,194.96 L191.43,194.87 L191.74,194.79 L192.05,194.70 L192.36,194.62 L192.68,194.53 L192.99,194.45 L193.30,194.36" fill="none" stroke="#3b6ee8" stroke-width="3.2" stroke-linejoin="round" stroke-linecap="butt" clip-path="url(#cc)"/>
<path d="M43.30,239.95 L43.61,239.92 L43.92,239.88 L44.24,239.84 L44.55,239.81 L44.86,239.77 L45.17,239.74 L45.49,239.70 L45.80,239.67 L46.11,239.63 L46.42,239.59 L46.74,239.56 L47.05,239.52 L47.36,239.49 L47.67,239.45 L47.99,239.42 L48.30,239.38 L48.61,239.35 L48.92,239.31 L49.24,239.27 L49.55,239.24 L49.86,239.20 L50.17,239.17 L50.49,239.13 L50.80,239.10 L51.11,239.06 L51.42,239.02 L51.74,238.99 L52.05,238.95 L52.36,238.92 L52.67,238.88 L52.99,238.85 L53.30,238.81 L53.61,238.78 L53.92,238.74 L54.24,238.70 L54.55,238.67 L54.86,238.63 L55.17,238.60 L55.49,238.56 L55.80,238.53 L56.11,238.49 L56.42,238.45 L56.74,238.42 L57.05,238.38 L57.36,238.35 L57.68,238.31 L57.99,238.28 L58.30,238.24 L58.61,238.21 L58.92,238.17 L59.24,238.13 L59.55,238.10 L59.86,238.06 L60.17,238.03 L60.49,237.99 L60.80,237.96 L61.11,237.92 L61.42,237.88 L61.74,237.85 L62.05,237.81 L62.36,237.78 L62.67,237.74 L62.99,237.71 L63.30,237.67 L63.61,237.64 L63.93,237.60 L64.24,237.56 L64.55,237.53 L64.86,237.49 L65.17,237.46 L65.49,237.42 L65.80,237.39 L66.11,237.35 L66.42,237.31 L66.74,237.28 L67.05,237.24 L67.36,237.21 L67.67,237.17 L67.99,237.14 L68.30,237.10 L68.61,237.07 L68.92,237.03 L69.24,236.99 L69.55,236.96 L69.86,236.92 L70.17,236.89 L70.49,236.85 L70.80,236.82 L71.11,236.78 L71.42,236.74 L71.74,236.71 L72.05,236.67 L72.36,236.64 L72.67,236.60 L72.99,236.57 L73.30,236.53 L73.61,236.50 L73.92,236.46 L74.24,236.42 L74.55,236.39 L74.86,236.35 L75.17,236.32 L75.49,236.28 L75.80,236.25 L76.11,236.21 L76.43,236.17 L76.74,236.14 L77.05,236.10 L77.36,236.07 L77.67,236.03 L77.99,236.00 L78.30,235.96 L78.61,235.93 L78.92,235.89 L79.24,235.85 L79.55,235.82 L79.86,235.78 L80.17,235.75 L80.49,235.71 L80.80,235.68 L81.11,235.64 L81.42,235.60 L81.74,235.57 L82.05,235.53 L82.36,235.50 L82.68,235.46 L82.99,235.43 L83.30,235.39 L83.61,235.36 L83.92,235.32 L84.24,235.28 L84.55,235.25 L84.86,235.21 L85.17,235.18 L85.49,235.14 L85.80,235.11 L86.11,235.07 L86.42,235.03 L86.74,235.00 L87.05,234.96 L87.36,234.93 L87.67,234.89 L87.99,234.86 L88.30,234.82 L88.61,234.79 L88.92,234.75 L89.24,234.71 L89.55,234.68 L89.86,234.64 L90.17,234.61 L90.49,234.57 L90.80,234.54 L91.11,234.50 L91.42,234.46 L91.74,234.43 L92.05,234.39 L92.36,234.36 L92.67,234.32 L92.99,234.29 L93.30,234.25 L93.61,234.22 L93.92,234.18 L94.24,234.14 L94.55,234.11 L94.86,234.07 L95.17,234.04 L95.49,234.00 L95.80,233.97 L96.11,233.93 L96.42,233.89 L96.74,233.86 L97.05,233.82 L97.36,233.79 L97.68,233.75 L97.99,233.72 L98.30,233.68 L98.61,233.65 L98.92,233.61 L99.24,233.57 L99.55,233.54 L99.86,233.50 L100.17,233.47 L100.49,233.43 L100.80,233.40 L101.11,233.36 L101.42,233.32 L101.74,233.29 L102.05,233.25 L102.36,233.22 L102.67,233.18 L102.99,233.15 L103.30,233.11 L103.61,233.08 L103.93,233.04 L104.24,233.00 L104.55,232.97 L104.86,232.93 L105.17,232.90 L105.49,232.86 L105.80,232.83 L106.11,232.79 L106.43,232.75 L106.74,232.72 L107.05,232.68 L107.36,232.65 L107.67,232.61 L107.99,232.58 L108.30,232.54 L108.61,232.51 L108.92,232.47 L109.24,232.43 L109.55,232.40 L109.86,232.36 L110.18,232.33 L110.49,232.29 L110.80,232.26 L111.11,232.22 L111.42,232.18 L111.74,232.15 L112.05,232.11 L112.36,232.08 L112.68,232.04 L112.99,232.01 L113.30,231.97 L113.61,231.93 L113.92,231.90 L114.24,231.86 L114.55,231.82 L114.86,231.78 L115.17,231.74 L115.49,231.68 L115.80,231.62 L116.11,231.53 L116.42,231.38 L116.74,231.15 L117.05,230.74 L117.36,230.04 L117.67,228.85 L117.99,227.03 L118.30,224.60 L118.61,222.17 L118.93,220.35 L119.24,219.16 L119.55,218.46 L119.86,218.05 L120.17,217.82 L120.49,217.67 L120.80,217.58 L121.11,217.52 L121.42,217.46 L121.74,217.42 L122.05,217.38 L122.36,217.34 L122.68,217.30 L122.99,217.27 L123.30,217.23 L123.61,217.19 L123.92,217.16 L124.24,217.12 L124.55,217.09 L124.86,217.05 L125.18,217.02 L125.49,216.98 L125.80,216.94 L126.11,216.91 L126.42,216.87 L126.74,216.84 L127.05,216.80 L127.36,216.77 L127.67,216.73 L127.99,216.69 L128.30,216.66 L128.61,216.62 L128.93,216.59 L129.24,216.55 L129.55,216.52 L129.86,216.48 L130.18,216.45 L130.49,216.41 L130.80,216.37 L131.11,216.34 L131.43,216.30 L131.74,216.27 L132.05,216.23 L132.36,216.20 L132.68,216.16 L132.99,216.12 L133.30,216.09 L133.61,216.05 L133.93,216.02 L134.24,215.98 L134.55,215.95 L134.86,215.91 L135.18,215.88 L135.49,215.84 L135.80,215.80 L136.11,215.77 L136.43,215.73 L136.74,215.70 L137.05,215.66 L137.36,215.63 L137.68,215.59 L137.99,215.55 L138.30,215.52 L138.61,215.48 L138.93,215.45 L139.24,215.41 L139.55,215.38 L139.86,215.34 L140.18,215.31 L140.49,215.27 L140.80,215.23 L141.11,215.20 L141.43,215.16 L141.74,215.13 L142.05,215.09 L142.36,215.06 L142.68,215.02 L142.99,214.98 L143.30,214.95 L143.61,214.91 L143.93,214.88 L144.24,214.84 L144.55,214.81 L144.86,214.77 L145.18,214.74 L145.49,214.70 L145.80,214.66 L146.11,214.63 L146.43,214.59 L146.74,214.56 L147.05,214.52 L147.36,214.49 L147.67,214.45 L147.99,214.41 L148.30,214.38 L148.61,214.34 L148.93,214.31 L149.24,214.27 L149.55,214.24 L149.86,214.20 L150.18,214.17 L150.49,214.13 L150.80,214.09 L151.11,214.06 L151.43,214.02 L151.74,213.99 L152.05,213.95 L152.36,213.92 L152.68,213.88 L152.99,213.84 L153.30,213.81 L153.61,213.77 L153.92,213.74 L154.24,213.70 L154.55,213.67 L154.86,213.63 L155.18,213.60 L155.49,213.56 L155.80,213.52 L156.11,213.49 L156.43,213.45 L156.74,213.42 L157.05,213.38 L157.36,213.35 L157.68,213.31 L157.99,213.27 L158.30,213.24 L158.61,213.20 L158.93,213.17 L159.24,213.13 L159.55,213.10 L159.86,213.06 L160.17,213.03 L160.49,212.99 L160.80,212.95 L161.11,212.92 L161.43,212.88 L161.74,212.85 L162.05,212.81 L162.36,212.78 L162.68,212.74 L162.99,212.70 L163.30,212.67 L163.61,212.63 L163.93,212.60 L164.24,212.56 L164.55,212.53 L164.86,212.49 L165.18,212.46 L165.49,212.42 L165.80,212.38 L166.11,212.35 L166.43,212.31 L166.74,212.28 L167.05,212.24 L167.36,212.21 L167.68,212.17 L167.99,212.13 L168.30,212.10 L168.61,212.06 L168.93,212.03 L169.24,211.99 L169.55,211.96 L169.86,211.92 L170.18,211.89 L170.49,211.85 L170.80,211.81 L171.11,211.78 L171.43,211.74 L171.74,211.71 L172.05,211.67 L172.36,211.64 L172.68,211.60 L172.99,211.56 L173.30,211.53 L173.61,211.49 L173.93,211.46 L174.24,211.42 L174.55,211.39 L174.86,211.35 L175.18,211.32 L175.49,211.28 L175.80,211.24 L176.11,211.21 L176.43,211.17 L176.74,211.14 L177.05,211.10 L177.36,211.07 L177.68,211.03 L177.99,210.99 L178.30,210.96 L178.61,210.92 L178.93,210.89 L179.24,210.85 L179.55,210.82 L179.86,210.78 L180.18,210.75 L180.49,210.71 L180.80,210.67 L181.11,210.64 L181.43,210.60 L181.74,210.57 L182.05,210.53 L182.36,210.50 L182.68,210.46 L182.99,210.42 L183.30,210.39 L183.61,210.35 L183.93,210.32 L184.24,210.28 L184.55,210.25 L184.86,210.21 L185.18,210.18 L185.49,210.14 L185.80,210.10 L186.11,210.07 L186.43,210.03 L186.74,210.00 L187.05,209.96 L187.36,209.93 L187.68,209.89 L187.99,209.85 L188.30,209.82 L188.61,209.78 L188.93,209.75 L189.24,209.71 L189.55,209.68 L189.86,209.64 L190.18,209.61 L190.49,209.57 L190.80,209.53 L191.11,209.50 L191.43,209.46 L191.74,209.43 L192.05,209.39 L192.36,209.36 L192.68,209.32 L192.99,209.28 L193.30,209.25" fill="none" stroke="#44b35f" stroke-width="3.2" stroke-linejoin="round" stroke-linecap="butt" clip-path="url(#cc)"/>
<path d="M43.30,232.21 L43.61,232.20 L43.92,232.19 L44.24,232.18 L44.55,232.17 L44.86,232.16 L45.17,232.15 L45.49,232.14 L45.80,232.13 L46.11,232.12 L46.42,232.11 L46.74,232.10 L47.05,232.09 L47.36,232.08 L47.67,232.07 L47.99,232.06 L48.30,232.05 L48.61,232.04 L48.92,232.03 L49.24,232.02 L49.55,232.01 L49.86,232.00 L50.17,231.99 L50.49,231.98 L50.80,231.97 L51.11,231.96 L51.42,231.95 L51.74,231.94 L52.05,231.93 L52.36,231.92 L52.67,231.91 L52.99,231.90 L53.30,231.89 L53.61,231.88 L53.92,231.87 L54.24,231.86 L54.55,231.85 L54.86,231.84 L55.17,231.83 L55.49,231.82 L55.80,231.81 L56.11,231.80 L56.42,231.79 L56.74,231.78 L57.05,231.77 L57.36,231.76 L57.68,231.75 L57.99,231.74 L58.30,231.73 L58.61,231.72 L58.92,231.71 L59.24,231.70 L59.55,231.69 L59.86,231.68 L60.17,231.67 L60.49,231.66 L60.80,231.65 L61.11,231.64 L61.42,231.63 L61.74,231.62 L62.05,231.61 L62.36,231.60 L62.67,231.59 L62.99,231.58 L63.30,231.57 L63.61,231.56 L63.93,231.55 L64.24,231.54 L64.55,231.53 L64.86,231.52 L65.17,231.51 L65.49,231.50 L65.80,231.49 L66.11,231.48 L66.42,231.47 L66.74,231.46 L67.05,231.45 L67.36,231.44 L67.67,231.43 L67.99,231.42 L68.30,231.41 L68.61,231.40 L68.92,231.39 L69.24,231.38 L69.55,231.37 L69.86,231.36 L70.17,231.35 L70.49,231.34 L70.80,231.33 L71.11,231.32 L71.42,231.31 L71.74,231.30 L72.05,231.29 L72.36,231.28 L72.67,231.27 L72.99,231.26 L73.30,231.25 L73.61,231.24 L73.92,231.23 L74.24,231.22 L74.55,231.21 L74.86,231.20 L75.17,231.19 L75.49,231.18 L75.80,231.17 L76.11,231.16 L76.43,231.15 L76.74,231.14 L77.05,231.13 L77.36,231.12 L77.67,231.11 L77.99,231.10 L78.30,231.09 L78.61,231.08 L78.92,231.07 L79.24,231.06 L79.55,231.05 L79.86,231.04 L80.17,231.03 L80.49,231.02 L80.80,231.01 L81.11,231.00 L81.42,230.99 L81.74,230.98 L82.05,230.97 L82.36,230.96 L82.68,230.95 L82.99,230.94 L83.30,230.93 L83.61,230.92 L83.92,230.91 L84.24,230.90 L84.55,230.89 L84.86,230.88 L85.17,230.87 L85.49,230.86 L85.80,230.85 L86.11,230.84 L86.42,230.83 L86.74,230.82 L87.05,230.81 L87.36,230.79 L87.67,230.78 L87.99,230.77 L88.30,230.76 L88.61,230.75 L88.92,230.74 L89.24,230.73 L89.55,230.72 L89.86,230.71 L90.17,230.70 L90.49,230.69 L90.80,230.68 L91.11,230.67 L91.42,230.66 L91.74,230.65 L92.05,230.64 L92.36,230.63 L92.67,230.62 L92.99,230.61 L93.30,230.60 L93.61,230.59 L93.92,230.58 L94.24,230.57 L94.55,230.56 L94.86,230.55 L95.17,230.54 L95.49,230.53 L95.80,230.52 L96.11,230.51 L96.42,230.50 L96.74,230.49 L97.05,230.48 L97.36,230.47 L97.68,230.46 L97.99,230.45 L98.30,230.44 L98.61,230.43 L98.92,230.42 L99.24,230.41 L99.55,230.40 L99.86,230.39 L100.17,230.38 L100.49,230.37 L100.80,230.36 L101.11,230.35 L101.42,230.34 L101.74,230.33 L102.05,230.32 L102.36,230.31 L102.67,230.30 L102.99,230.29 L103.30,230.28 L103.61,230.27 L103.93,230.26 L104.24,230.25 L104.55,230.24 L104.86,230.23 L105.17,230.22 L105.49,230.21 L105.80,230.20 L106.11,230.19 L106.43,230.18 L106.74,230.17 L107.05,230.16 L107.36,230.15 L107.67,230.14 L107.99,230.13 L108.30,230.12 L108.61,230.11 L108.92,230.10 L109.24,230.09 L109.55,230.08 L109.86,230.07 L110.18,230.06 L110.49,230.05 L110.80,230.04 L111.11,230.03 L111.42,230.02 L111.74,230.01 L112.05,230.00 L112.36,229.99 L112.68,229.98 L112.99,229.97 L113.30,229.96 L113.61,229.95 L113.92,229.94 L114.24,229.93 L114.55,229.92 L114.86,229.91 L115.17,229.89 L115.49,229.87 L115.80,229.85 L116.11,229.80 L116.42,229.72 L116.74,229.57 L117.05,229.28 L117.36,228.74 L117.67,227.81 L117.99,226.39 L118.30,224.60 L118.61,222.81 L118.93,221.39 L119.24,220.46 L119.55,219.92 L119.86,219.63 L120.17,219.48 L120.49,219.40 L120.80,219.35 L121.11,219.33 L121.42,219.31 L121.74,219.29 L122.05,219.28 L122.36,219.27 L122.68,219.26 L122.99,219.25 L123.30,219.24 L123.61,219.23 L123.92,219.22 L124.24,219.21 L124.55,219.20 L124.86,219.19 L125.18,219.18 L125.49,219.17 L125.80,219.16 L126.11,219.15 L126.42,219.14 L126.74,219.13 L127.05,219.12 L127.36,219.11 L127.67,219.10 L127.99,219.09 L128.30,219.08 L128.61,219.07 L128.93,219.06 L129.24,219.05 L129.55,219.04 L129.86,219.03 L130.18,219.02 L130.49,219.01 L130.80,219.00 L131.11,218.99 L131.43,218.98 L131.74,218.97 L132.05,218.96 L132.36,218.95 L132.68,218.94 L132.99,218.93 L133.30,218.92 L133.61,218.91 L133.93,218.90 L134.24,218.89 L134.55,218.88 L134.86,218.87 L135.18,218.86 L135.49,218.85 L135.80,218.84 L136.11,218.83 L136.43,218.82 L136.74,218.81 L137.05,218.80 L137.36,218.79 L137.68,218.78 L137.99,218.77 L138.30,218.76 L138.61,218.75 L138.93,218.74 L139.24,218.73 L139.55,218.72 L139.86,218.71 L140.18,218.70 L140.49,218.69 L140.80,218.68 L141.11,218.67 L141.43,218.66 L141.74,218.65 L142.05,218.64 L142.36,218.63 L142.68,218.62 L142.99,218.61 L143.30,218.60 L143.61,218.59 L143.93,218.58 L144.24,218.57 L144.55,218.56 L144.86,218.55 L145.18,218.54 L145.49,218.53 L145.80,218.52 L146.11,218.51 L146.43,218.50 L146.74,218.49 L147.05,218.48 L147.36,218.47 L147.67,218.46 L147.99,218.45 L148.30,218.44 L148.61,218.43 L148.93,218.42 L149.24,218.41 L149.55,218.39 L149.86,218.38 L150.18,218.37 L150.49,218.36 L150.80,218.35 L151.11,218.34 L151.43,218.33 L151.74,218.32 L152.05,218.31 L152.36,218.30 L152.68,218.29 L152.99,218.28 L153.30,218.27 L153.61,218.26 L153.92,218.25 L154.24,218.24 L154.55,218.23 L154.86,218.22 L155.18,218.21 L155.49,218.20 L155.80,218.19 L156.11,218.18 L156.43,218.17 L156.74,218.16 L157.05,218.15 L157.36,218.14 L157.68,218.13 L157.99,218.12 L158.30,218.11 L158.61,218.10 L158.93,218.09 L159.24,218.08 L159.55,218.07 L159.86,218.06 L160.17,218.05 L160.49,218.04 L160.80,218.03 L161.11,218.02 L161.43,218.01 L161.74,218.00 L162.05,217.99 L162.36,217.98 L162.68,217.97 L162.99,217.96 L163.30,217.95 L163.61,217.94 L163.93,217.93 L164.24,217.92 L164.55,217.91 L164.86,217.90 L165.18,217.89 L165.49,217.88 L165.80,217.87 L166.11,217.86 L166.43,217.85 L166.74,217.84 L167.05,217.83 L167.36,217.82 L167.68,217.81 L167.99,217.80 L168.30,217.79 L168.61,217.78 L168.93,217.77 L169.24,217.76 L169.55,217.75 L169.86,217.74 L170.18,217.73 L170.49,217.72 L170.80,217.71 L171.11,217.70 L171.43,217.69 L171.74,217.68 L172.05,217.67 L172.36,217.66 L172.68,217.65 L172.99,217.64 L173.30,217.63 L173.61,217.62 L173.93,217.61 L174.24,217.60 L174.55,217.59 L174.86,217.58 L175.18,217.57 L175.49,217.56 L175.80,217.55 L176.11,217.54 L176.43,217.53 L176.74,217.52 L177.05,217.51 L177.36,217.50 L177.68,217.49 L177.99,217.48 L178.30,217.47 L178.61,217.46 L178.93,217.45 L179.24,217.44 L179.55,217.43 L179.86,217.42 L180.18,217.41 L180.49,217.40 L180.80,217.39 L181.11,217.38 L181.43,217.37 L181.74,217.36 L182.05,217.35 L182.36,217.34 L182.68,217.33 L182.99,217.32 L183.30,217.31 L183.61,217.30 L183.93,217.29 L184.24,217.28 L184.55,217.27 L184.86,217.26 L185.18,217.25 L185.49,217.24 L185.80,217.23 L186.11,217.22 L186.43,217.21 L186.74,217.20 L187.05,217.19 L187.36,217.18 L187.68,217.17 L187.99,217.16 L188.30,217.15 L188.61,217.14 L188.93,217.13 L189.24,217.12 L189.55,217.11 L189.86,217.10 L190.18,217.09 L190.49,217.08 L190.80,217.07 L191.11,217.06 L191.43,217.05 L191.74,217.04 L192.05,217.03 L192.36,217.02 L192.68,217.01 L192.99,217.00 L193.30,216.99" fill="none" stroke="#c9a12b" stroke-width="3.2" stroke-linejoin="round" stroke-linecap="butt" clip-path="url(#cc)"/>
<line x1="41.80" y1="168.80" x2="56.00" y2="168.80" stroke="#4b4b4b" stroke-width="1.3" />
<circle cx="49.00" cy="168.80" r="1.4" fill="#555555" />
<text x="58.80" y="171.60" font-size="8.0" text-anchor="start" font-weight="bold" font-style="normal" fill="#555555"  stroke="#555555" stroke-width="0.22">1.8K</text>
<line x1="41.80" y1="179.52" x2="56.00" y2="179.52" stroke="#f08088" stroke-width="1.3" />
<circle cx="49.00" cy="179.52" r="1.4" fill="#e8353b" />
<text x="58.80" y="182.32" font-size="8.0" text-anchor="start" font-weight="bold" font-style="normal" fill="#e8353b"  stroke="#e8353b" stroke-width="0.22">10K</text>
<line x1="41.80" y1="190.24" x2="56.00" y2="190.24" stroke="#7aa0f0" stroke-width="1.3" />
<circle cx="49.00" cy="190.24" r="1.4" fill="#3b6ee8" />
<text x="58.80" y="193.04" font-size="8.0" text-anchor="start" font-weight="bold" font-style="normal" fill="#3b6ee8"  stroke="#3b6ee8" stroke-width="0.22">20K</text>
<line x1="41.80" y1="200.96" x2="56.00" y2="200.96" stroke="#8ad09a" stroke-width="1.3" />
<circle cx="49.00" cy="200.96" r="1.4" fill="#44b35f" />
<text x="58.80" y="203.76" font-size="8.0" text-anchor="start" font-weight="bold" font-style="normal" fill="#44b35f"  stroke="#44b35f" stroke-width="0.22">50K</text>
<line x1="41.80" y1="211.68" x2="56.00" y2="211.68" stroke="#dcc070" stroke-width="1.3" />
<circle cx="49.00" cy="211.68" r="1.4" fill="#c9a12b" />
<text x="58.80" y="214.48" font-size="8.0" text-anchor="start" font-weight="bold" font-style="normal" fill="#c9a12b"  stroke="#c9a12b" stroke-width="0.22">200K</text>
<text x="111.60" y="181.50" font-size="8.3" text-anchor="middle" font-weight="bold" font-style="normal" fill="#1a1a1a" word-spacing="0.7" stroke="#1a1a1a" stroke-width="0.22"><tspan font-style="italic">H</tspan> <tspan font-style="italic" font-weight="normal">//</tspan> ab</text>
<text x="1.00" y="169.30" font-size="8.2" text-anchor="start" font-weight="bold" font-style="normal" fill="#1a1a1a"  stroke="#1a1a1a" stroke-width="0.22">(c)</text>
<text x="106.90" y="305.40" font-size="7.6" text-anchor="middle" font-weight="bold" font-style="normal" fill="#1a1a1a"  stroke="#1a1a1a" stroke-width="0.22"><tspan font-style="italic">μ</tspan><tspan font-size="5" dy="1.5" font-style="italic">0</tspan><tspan dy="-1.5" font-style="italic">H</tspan> (T)</text>
<text x="0.00" y="0.00" font-size="8.1" text-anchor="middle" font-weight="bold" font-style="normal" fill="#1a1a1a" transform="translate(6.6,224.4) rotate(-90)" stroke="#1a1a1a" stroke-width="0.22"><tspan font-style="italic">M</tspan> (emu/g)</text>
<rect x="137.30" y="226.40" width="59.00" height="44.10" fill="#ffffff" stroke="none" stroke-width="0" />
<line x1="137.30" y1="248.70" x2="196.30" y2="248.70" stroke="#a0a0a0" stroke-width="1.2" />
<line x1="167.00" y1="226.40" x2="167.00" y2="270.50" stroke="#222" stroke-width="0.9" />
<path d="M137.50,269.01 L139.96,268.59 L142.42,268.12 L144.88,267.57 L147.33,266.92 L149.79,266.12 L152.25,265.09 L154.71,263.77 L157.17,262.04 L159.62,259.83 L162.08,257.08 L164.54,253.82 L167.00,250.20 L169.46,246.46 L171.92,242.89 L174.38,239.73 L176.83,237.09 L179.29,234.98 L181.75,233.34 L184.21,232.08 L186.67,231.11 L189.12,230.34 L191.58,229.71 L194.04,229.18 L196.50,228.72" fill="none" stroke="#c9a12b" stroke-width="0.9" stroke-linejoin="round" stroke-linecap="butt" />
<path d="M137.50,268.68 L139.96,268.22 L142.42,267.69 L144.88,267.06 L147.33,266.29 L149.79,265.32 L152.25,264.06 L154.71,262.42 L157.17,260.31 L159.62,257.67 L162.08,254.51 L164.54,250.94 L167.00,247.20 L169.46,243.58 L171.92,240.32 L174.38,237.57 L176.83,235.36 L179.29,233.63 L181.75,232.31 L184.21,231.28 L186.67,230.48 L189.12,229.83 L191.58,229.28 L194.04,228.81 L196.50,228.39" fill="none" stroke="#c9a12b" stroke-width="0.9" stroke-linejoin="round" stroke-linecap="butt" />
<rect x="137.30" y="226.40" width="59.00" height="44.10" fill="none" stroke="#1f1f1f" stroke-width="1.0" />
<line x1="137.30" y1="270.60" x2="138.80" y2="270.60" stroke="#1f1f1f" stroke-width="0.8" />
<text x="135.20" y="272.90" font-size="6.4" text-anchor="end" font-weight="normal" font-style="normal" fill="#1a1a1a" stroke="#1a1a1a" stroke-width="0.25">-2</text>
<line x1="137.30" y1="259.65" x2="138.80" y2="259.65" stroke="#1f1f1f" stroke-width="0.8" />
<text x="135.20" y="261.95" font-size="6.4" text-anchor="end" font-weight="normal" font-style="normal" fill="#1a1a1a" stroke="#1a1a1a" stroke-width="0.25">-1</text>
<line x1="137.30" y1="248.70" x2="138.80" y2="248.70" stroke="#1f1f1f" stroke-width="0.8" />
<text x="135.20" y="251.00" font-size="6.4" text-anchor="end" font-weight="normal" font-style="normal" fill="#1a1a1a" stroke="#1a1a1a" stroke-width="0.25">0</text>
<line x1="137.30" y1="237.75" x2="138.80" y2="237.75" stroke="#1f1f1f" stroke-width="0.8" />
<text x="135.20" y="240.05" font-size="6.4" text-anchor="end" font-weight="normal" font-style="normal" fill="#1a1a1a" stroke="#1a1a1a" stroke-width="0.25">1</text>
<line x1="137.30" y1="226.80" x2="138.80" y2="226.80" stroke="#1f1f1f" stroke-width="0.8" />
<text x="135.20" y="229.10" font-size="6.4" text-anchor="end" font-weight="normal" font-style="normal" fill="#1a1a1a" stroke="#1a1a1a" stroke-width="0.25">2</text>
<line x1="137.50" y1="270.50" x2="137.50" y2="269.00" stroke="#1f1f1f" stroke-width="0.8" />
<text x="137.50" y="276.70" font-size="6.4" text-anchor="middle" font-weight="normal" font-style="normal" fill="#1a1a1a" stroke="#1a1a1a" stroke-width="0.25">-0.3</text>
<line x1="147.33" y1="270.50" x2="147.33" y2="269.00" stroke="#1f1f1f" stroke-width="0.8" />
<text x="147.33" y="276.70" font-size="6.4" text-anchor="middle" font-weight="normal" font-style="normal" fill="#1a1a1a" stroke="#1a1a1a" stroke-width="0.25">-0.2</text>
<line x1="157.17" y1="270.50" x2="157.17" y2="269.00" stroke="#1f1f1f" stroke-width="0.8" />
<text x="157.17" y="276.70" font-size="6.4" text-anchor="middle" font-weight="normal" font-style="normal" fill="#1a1a1a" stroke="#1a1a1a" stroke-width="0.25">-0.1</text>
<line x1="167.00" y1="270.50" x2="167.00" y2="269.00" stroke="#1f1f1f" stroke-width="0.8" />
<text x="167.00" y="276.70" font-size="6.4" text-anchor="middle" font-weight="normal" font-style="normal" fill="#1a1a1a" stroke="#1a1a1a" stroke-width="0.25">0.0</text>
<line x1="176.83" y1="270.50" x2="176.83" y2="269.00" stroke="#1f1f1f" stroke-width="0.8" />
<text x="176.83" y="276.70" font-size="6.4" text-anchor="middle" font-weight="normal" font-style="normal" fill="#1a1a1a" stroke="#1a1a1a" stroke-width="0.25">0.1</text>
<line x1="186.67" y1="270.50" x2="186.67" y2="269.00" stroke="#1f1f1f" stroke-width="0.8" />
<text x="186.67" y="276.70" font-size="6.4" text-anchor="middle" font-weight="normal" font-style="normal" fill="#1a1a1a" stroke="#1a1a1a" stroke-width="0.25">0.2</text>
<line x1="196.50" y1="270.50" x2="196.50" y2="269.00" stroke="#1f1f1f" stroke-width="0.8" />
<text x="196.50" y="276.70" font-size="6.4" text-anchor="middle" font-weight="normal" font-style="normal" fill="#1a1a1a" stroke="#1a1a1a" stroke-width="0.25">0.3</text>
<text x="165.20" y="283.60" font-size="6.8" text-anchor="middle" font-weight="normal" font-style="normal" fill="#1a1a1a" stroke="#1a1a1a" stroke-width="0.25"><tspan font-style="italic">μ</tspan><tspan font-size="4.5" dy="1.2" font-style="italic">0</tspan><tspan dy="-1.2" font-style="italic">H</tspan> (T)</text>
<text x="0.00" y="0.00" font-size="6.3" text-anchor="middle" font-weight="normal" font-style="normal" fill="#1a1a1a" transform="translate(128.4,246.8) rotate(-90)" stroke="#1a1a1a" stroke-width="0.25"><tspan font-style="italic" font-weight="bold">M</tspan> (×10<tspan font-size="4.6" dy="-2.6">-3</tspan><tspan dy="2.6">emu/g)</tspan></text>
<line x1="140.50" y1="231.40" x2="149.50" y2="231.40" stroke="#c9a12b" stroke-width="1.1" />
<text x="151.30" y="233.50" font-size="5.8" text-anchor="start" font-weight="normal" font-style="normal" fill="#1a1a1a" stroke="#1a1a1a" stroke-width="0.2">200 K</text>
<line x1="245.50" y1="223.60" x2="417.30" y2="223.60" stroke="#222" stroke-width="1.0" />
<line x1="331.45" y1="160.30" x2="331.45" y2="287.30" stroke="#222" stroke-width="1.0" />
<line x1="288.50" y1="287.30" x2="288.50" y2="285.80" stroke="#1f1f1f" stroke-width="1" />
<line x1="374.39" y1="287.30" x2="374.39" y2="285.80" stroke="#1f1f1f" stroke-width="1" />
<line x1="245.50" y1="286.90" x2="248.00" y2="286.90" stroke="#1f1f1f" stroke-width="1" />
<text x="242.00" y="289.65" font-size="7.6" text-anchor="end" font-weight="bold" font-style="normal" fill="#1a1a1a"  stroke="#1a1a1a" stroke-width="0.22">-0.010</text>
<line x1="245.50" y1="271.07" x2="247.00" y2="271.07" stroke="#1f1f1f" stroke-width="1" />
<line x1="245.50" y1="255.25" x2="248.00" y2="255.25" stroke="#1f1f1f" stroke-width="1" />
<text x="242.00" y="258.00" font-size="7.6" text-anchor="end" font-weight="bold" font-style="normal" fill="#1a1a1a"  stroke="#1a1a1a" stroke-width="0.22">-0.005</text>
<line x1="245.50" y1="239.42" x2="247.00" y2="239.42" stroke="#1f1f1f" stroke-width="1" />
<line x1="245.50" y1="223.60" x2="248.00" y2="223.60" stroke="#1f1f1f" stroke-width="1" />
<text x="242.00" y="226.35" font-size="7.6" text-anchor="end" font-weight="bold" font-style="normal" fill="#1a1a1a"  stroke="#1a1a1a" stroke-width="0.22">0.000</text>
<line x1="245.50" y1="207.78" x2="247.00" y2="207.78" stroke="#1f1f1f" stroke-width="1" />
<line x1="245.50" y1="191.95" x2="248.00" y2="191.95" stroke="#1f1f1f" stroke-width="1" />
<text x="242.00" y="194.70" font-size="7.6" text-anchor="end" font-weight="bold" font-style="normal" fill="#1a1a1a"  stroke="#1a1a1a" stroke-width="0.22">0.005</text>
<line x1="245.50" y1="176.12" x2="247.00" y2="176.12" stroke="#1f1f1f" stroke-width="1" />
<line x1="245.50" y1="160.30" x2="248.00" y2="160.30" stroke="#1f1f1f" stroke-width="1" />
<text x="242.00" y="163.05" font-size="7.6" text-anchor="end" font-weight="bold" font-style="normal" fill="#1a1a1a"  stroke="#1a1a1a" stroke-width="0.22">0.010</text>
<text x="245.56" y="294.00" font-size="7.6" text-anchor="middle" font-weight="bold" font-style="normal" fill="#1a1a1a"  stroke="#1a1a1a" stroke-width="0.22">-3</text>
<text x="331.45" y="294.00" font-size="7.6" text-anchor="middle" font-weight="bold" font-style="normal" fill="#1a1a1a"  stroke="#1a1a1a" stroke-width="0.22">0</text>
<text x="417.34" y="294.00" font-size="7.6" text-anchor="middle" font-weight="bold" font-style="normal" fill="#1a1a1a"  stroke="#1a1a1a" stroke-width="0.22">3</text>
<rect x="245.50" y="160.30" width="171.80" height="127.00" fill="none" stroke="#1f1f1f" stroke-width="1.3" />
<clipPath id="cd"><rect x="245.5" y="160.3" width="171.8" height="127"/></clipPath>
<path d="M245.56,248.29 L246.04,248.20 L246.51,248.10 L246.99,248.01 L247.47,247.92 L247.95,247.82 L248.42,247.73 L248.90,247.63 L249.38,247.54 L249.85,247.44 L250.33,247.35 L250.81,247.26 L251.29,247.16 L251.76,247.07 L252.24,246.97 L252.72,246.88 L253.19,246.78 L253.67,246.69 L254.15,246.59 L254.63,246.50 L255.10,246.40 L255.58,246.31 L256.06,246.21 L256.53,246.12 L257.01,246.02 L257.49,245.92 L257.97,245.83 L258.44,245.73 L258.92,245.64 L259.40,245.54 L259.88,245.44 L260.35,245.35 L260.83,245.25 L261.31,245.15 L261.78,245.06 L262.26,244.96 L262.74,244.86 L263.22,244.77 L263.69,244.67 L264.17,244.57 L264.65,244.48 L265.12,244.38 L265.60,244.28 L266.08,244.18 L266.56,244.08 L267.03,243.99 L267.51,243.89 L267.99,243.79 L268.46,243.69 L268.94,243.59 L269.42,243.49 L269.90,243.39 L270.37,243.29 L270.85,243.19 L271.33,243.09 L271.80,242.99 L272.28,242.89 L272.76,242.79 L273.24,242.69 L273.71,242.59 L274.19,242.49 L274.67,242.39 L275.14,242.29 L275.62,242.18 L276.10,242.08 L276.58,241.98 L277.05,241.88 L277.53,241.77 L278.01,241.67 L278.48,241.57 L278.96,241.46 L279.44,241.36 L279.92,241.25 L280.39,241.15 L280.87,241.04 L281.35,240.94 L281.82,240.83 L282.30,240.72 L282.78,240.62 L283.26,240.51 L283.73,240.40 L284.21,240.29 L284.69,240.18 L285.16,240.08 L285.64,239.97 L286.12,239.86 L286.60,239.75 L287.07,239.64 L287.55,239.52 L288.03,239.41 L288.50,239.30 L288.98,239.19 L289.46,239.07 L289.94,238.96 L290.41,238.84 L290.89,238.73 L291.37,238.61 L291.85,238.50 L292.32,238.38 L292.80,238.26 L293.28,238.14 L293.75,238.02 L294.23,237.90 L294.71,237.78 L295.19,237.66 L295.66,237.54 L296.14,237.42 L296.62,237.29 L297.09,237.17 L297.57,237.04 L298.05,236.92 L298.53,236.79 L299.00,236.66 L299.48,236.53 L299.96,236.40 L300.43,236.27 L300.91,236.14 L301.39,236.01 L301.87,235.87 L302.34,235.74 L302.82,235.60 L303.30,235.46 L303.77,235.33 L304.25,235.19 L304.73,235.04 L305.21,234.90 L305.68,234.76 L306.16,234.61 L306.64,234.47 L307.11,234.32 L307.59,234.17 L308.07,234.02 L308.55,233.86 L309.02,233.71 L309.50,233.55 L309.98,233.40 L310.45,233.24 L310.93,233.08 L311.41,232.91 L311.89,232.75 L312.36,232.58 L312.84,232.41 L313.32,232.24 L313.79,232.07 L314.27,231.90 L314.75,231.72 L315.23,231.54 L315.70,231.36 L316.18,231.17 L316.66,230.99 L317.13,230.80 L317.61,230.61 L318.09,230.41 L318.57,230.22 L319.04,230.02 L319.52,229.82 L320.00,229.61 L320.48,229.40 L320.95,229.19 L321.43,228.98 L321.91,228.76 L322.38,228.54 L322.86,228.32 L323.34,228.09 L323.82,227.86 L324.29,227.63 L324.77,227.39 L325.25,227.14 L325.72,226.90 L326.20,226.65 L326.68,226.39 L327.16,226.14 L327.63,225.87 L328.11,225.61 L328.59,225.33 L329.06,225.06 L329.54,224.78 L330.02,224.49 L330.50,224.20 L330.97,223.90 L331.45,223.60 L331.93,223.30 L332.40,223.00 L332.88,222.71 L333.36,222.42 L333.84,222.14 L334.31,221.87 L334.79,221.59 L335.27,221.33 L335.74,221.06 L336.22,220.81 L336.70,220.55 L337.18,220.30 L337.65,220.06 L338.13,219.81 L338.61,219.57 L339.08,219.34 L339.56,219.11 L340.04,218.88 L340.52,218.66 L340.99,218.44 L341.47,218.22 L341.95,218.01 L342.42,217.80 L342.90,217.59 L343.38,217.38 L343.86,217.18 L344.33,216.98 L344.81,216.79 L345.29,216.59 L345.76,216.40 L346.24,216.21 L346.72,216.03 L347.20,215.84 L347.67,215.66 L348.15,215.48 L348.63,215.30 L349.11,215.13 L349.58,214.96 L350.06,214.79 L350.54,214.62 L351.01,214.45 L351.49,214.29 L351.97,214.12 L352.45,213.96 L352.92,213.80 L353.40,213.65 L353.88,213.49 L354.35,213.34 L354.83,213.18 L355.31,213.03 L355.79,212.88 L356.26,212.73 L356.74,212.59 L357.22,212.44 L357.69,212.30 L358.17,212.16 L358.65,212.01 L359.13,211.87 L359.60,211.74 L360.08,211.60 L360.56,211.46 L361.03,211.33 L361.51,211.19 L361.99,211.06 L362.47,210.93 L362.94,210.80 L363.42,210.67 L363.90,210.54 L364.37,210.41 L364.85,210.28 L365.33,210.16 L365.81,210.03 L366.28,209.91 L366.76,209.78 L367.24,209.66 L367.71,209.54 L368.19,209.42 L368.67,209.30 L369.15,209.18 L369.62,209.06 L370.10,208.94 L370.58,208.82 L371.05,208.70 L371.53,208.59 L372.01,208.47 L372.49,208.36 L372.96,208.24 L373.44,208.13 L373.92,208.01 L374.39,207.90 L374.87,207.79 L375.35,207.68 L375.83,207.56 L376.30,207.45 L376.78,207.34 L377.26,207.23 L377.74,207.12 L378.21,207.02 L378.69,206.91 L379.17,206.80 L379.64,206.69 L380.12,206.58 L380.60,206.48 L381.08,206.37 L381.55,206.26 L382.03,206.16 L382.51,206.05 L382.98,205.95 L383.46,205.84 L383.94,205.74 L384.42,205.63 L384.89,205.53 L385.37,205.43 L385.85,205.32 L386.32,205.22 L386.80,205.12 L387.28,205.02 L387.76,204.91 L388.23,204.81 L388.71,204.71 L389.19,204.61 L389.66,204.51 L390.14,204.41 L390.62,204.31 L391.10,204.21 L391.57,204.11 L392.05,204.01 L392.53,203.91 L393.00,203.81 L393.48,203.71 L393.96,203.61 L394.44,203.51 L394.91,203.41 L395.39,203.31 L395.87,203.21 L396.34,203.12 L396.82,203.02 L397.30,202.92 L397.78,202.82 L398.25,202.72 L398.73,202.63 L399.21,202.53 L399.68,202.43 L400.16,202.34 L400.64,202.24 L401.12,202.14 L401.59,202.05 L402.07,201.95 L402.55,201.85 L403.02,201.76 L403.50,201.66 L403.98,201.56 L404.46,201.47 L404.93,201.37 L405.41,201.28 L405.89,201.18 L406.37,201.08 L406.84,200.99 L407.32,200.89 L407.80,200.80 L408.27,200.70 L408.75,200.61 L409.23,200.51 L409.71,200.42 L410.18,200.32 L410.66,200.23 L411.14,200.13 L411.61,200.04 L412.09,199.94 L412.57,199.85 L413.05,199.76 L413.52,199.66 L414.00,199.57 L414.48,199.47 L414.95,199.38 L415.43,199.28 L415.91,199.19 L416.39,199.10 L416.86,199.00 L417.34,198.91" fill="none" stroke="#a85a2a" stroke-width="3.2" stroke-linejoin="round" stroke-linecap="butt" clip-path="url(#cd)"/>
<path d="M245.56,270.09 L246.04,269.96 L246.51,269.83 L246.99,269.70 L247.47,269.56 L247.95,269.43 L248.42,269.30 L248.90,269.17 L249.38,269.04 L249.85,268.91 L250.33,268.77 L250.81,268.64 L251.29,268.51 L251.76,268.38 L252.24,268.24 L252.72,268.11 L253.19,267.98 L253.67,267.84 L254.15,267.71 L254.63,267.58 L255.10,267.44 L255.58,267.31 L256.06,267.17 L256.53,267.04 L257.01,266.90 L257.49,266.77 L257.97,266.63 L258.44,266.49 L258.92,266.36 L259.40,266.22 L259.88,266.08 L260.35,265.95 L260.83,265.81 L261.31,265.67 L261.78,265.53 L262.26,265.39 L262.74,265.25 L263.22,265.11 L263.69,264.97 L264.17,264.83 L264.65,264.69 L265.12,264.55 L265.60,264.41 L266.08,264.27 L266.56,264.13 L267.03,263.98 L267.51,263.84 L267.99,263.70 L268.46,263.55 L268.94,263.41 L269.42,263.26 L269.90,263.11 L270.37,262.97 L270.85,262.82 L271.33,262.67 L271.80,262.52 L272.28,262.38 L272.76,262.23 L273.24,262.08 L273.71,261.92 L274.19,261.77 L274.67,261.62 L275.14,261.47 L275.62,261.31 L276.10,261.16 L276.58,261.00 L277.05,260.85 L277.53,260.69 L278.01,260.53 L278.48,260.37 L278.96,260.21 L279.44,260.05 L279.92,259.89 L280.39,259.73 L280.87,259.57 L281.35,259.40 L281.82,259.23 L282.30,259.07 L282.78,258.90 L283.26,258.73 L283.73,258.56 L284.21,258.39 L284.69,258.22 L285.16,258.04 L285.64,257.87 L286.12,257.69 L286.60,257.51 L287.07,257.33 L287.55,257.15 L288.03,256.97 L288.50,256.79 L288.98,256.60 L289.46,256.41 L289.94,256.23 L290.41,256.04 L290.89,255.84 L291.37,255.65 L291.85,255.45 L292.32,255.26 L292.80,255.06 L293.28,254.86 L293.75,254.65 L294.23,254.45 L294.71,254.24 L295.19,254.03 L295.66,253.82 L296.14,253.60 L296.62,253.38 L297.09,253.16 L297.57,252.94 L298.05,252.72 L298.53,252.49 L299.00,252.26 L299.48,252.03 L299.96,251.79 L300.43,251.55 L300.91,251.31 L301.39,251.07 L301.87,250.82 L302.34,250.57 L302.82,250.31 L303.30,250.06 L303.77,249.79 L304.25,249.53 L304.73,249.26 L305.21,248.99 L305.68,248.71 L306.16,248.43 L306.64,248.15 L307.11,247.86 L307.59,247.56 L308.07,247.26 L308.55,246.96 L309.02,246.65 L309.50,246.34 L309.98,246.02 L310.45,245.70 L310.93,245.37 L311.41,245.04 L311.89,244.70 L312.36,244.36 L312.84,244.01 L313.32,243.65 L313.79,243.29 L314.27,242.92 L314.75,242.55 L315.23,242.16 L315.70,241.77 L316.18,241.38 L316.66,240.98 L317.13,240.57 L317.61,240.15 L318.09,239.72 L318.57,239.29 L319.04,238.85 L319.52,238.40 L320.00,237.94 L320.48,237.47 L320.95,236.99 L321.43,236.50 L321.91,236.01 L322.38,235.50 L322.86,234.98 L323.34,234.46 L323.82,233.92 L324.29,233.37 L324.77,232.81 L325.25,232.24 L325.72,231.66 L326.20,231.06 L326.68,230.45 L327.16,229.83 L327.63,229.20 L328.11,228.55 L328.59,227.89 L329.06,227.21 L329.54,226.52 L330.02,225.81 L330.50,225.09 L330.97,224.35 L331.45,223.60 L331.93,222.85 L332.40,222.11 L332.88,221.39 L333.36,220.68 L333.84,219.99 L334.31,219.31 L334.79,218.65 L335.27,218.00 L335.74,217.37 L336.22,216.75 L336.70,216.14 L337.18,215.54 L337.65,214.96 L338.13,214.39 L338.61,213.83 L339.08,213.28 L339.56,212.74 L340.04,212.22 L340.52,211.70 L340.99,211.19 L341.47,210.70 L341.95,210.21 L342.42,209.73 L342.90,209.26 L343.38,208.80 L343.86,208.35 L344.33,207.91 L344.81,207.48 L345.29,207.05 L345.76,206.63 L346.24,206.22 L346.72,205.82 L347.20,205.43 L347.67,205.04 L348.15,204.65 L348.63,204.28 L349.11,203.91 L349.58,203.55 L350.06,203.19 L350.54,202.84 L351.01,202.50 L351.49,202.16 L351.97,201.83 L352.45,201.50 L352.92,201.18 L353.40,200.86 L353.88,200.55 L354.35,200.24 L354.83,199.94 L355.31,199.64 L355.79,199.34 L356.26,199.05 L356.74,198.77 L357.22,198.49 L357.69,198.21 L358.17,197.94 L358.65,197.67 L359.13,197.41 L359.60,197.14 L360.08,196.89 L360.56,196.63 L361.03,196.38 L361.51,196.13 L361.99,195.89 L362.47,195.65 L362.94,195.41 L363.42,195.17 L363.90,194.94 L364.37,194.71 L364.85,194.48 L365.33,194.26 L365.81,194.04 L366.28,193.82 L366.76,193.60 L367.24,193.38 L367.71,193.17 L368.19,192.96 L368.67,192.75 L369.15,192.55 L369.62,192.34 L370.10,192.14 L370.58,191.94 L371.05,191.75 L371.53,191.55 L372.01,191.36 L372.49,191.16 L372.96,190.97 L373.44,190.79 L373.92,190.60 L374.39,190.41 L374.87,190.23 L375.35,190.05 L375.83,189.87 L376.30,189.69 L376.78,189.51 L377.26,189.33 L377.74,189.16 L378.21,188.98 L378.69,188.81 L379.17,188.64 L379.64,188.47 L380.12,188.30 L380.60,188.13 L381.08,187.97 L381.55,187.80 L382.03,187.63 L382.51,187.47 L382.98,187.31 L383.46,187.15 L383.94,186.99 L384.42,186.83 L384.89,186.67 L385.37,186.51 L385.85,186.35 L386.32,186.20 L386.80,186.04 L387.28,185.89 L387.76,185.73 L388.23,185.58 L388.71,185.43 L389.19,185.28 L389.66,185.12 L390.14,184.97 L390.62,184.82 L391.10,184.68 L391.57,184.53 L392.05,184.38 L392.53,184.23 L393.00,184.09 L393.48,183.94 L393.96,183.79 L394.44,183.65 L394.91,183.50 L395.39,183.36 L395.87,183.22 L396.34,183.07 L396.82,182.93 L397.30,182.79 L397.78,182.65 L398.25,182.51 L398.73,182.37 L399.21,182.23 L399.68,182.09 L400.16,181.95 L400.64,181.81 L401.12,181.67 L401.59,181.53 L402.07,181.39 L402.55,181.25 L403.02,181.12 L403.50,180.98 L403.98,180.84 L404.46,180.71 L404.93,180.57 L405.41,180.43 L405.89,180.30 L406.37,180.16 L406.84,180.03 L407.32,179.89 L407.80,179.76 L408.27,179.62 L408.75,179.49 L409.23,179.36 L409.71,179.22 L410.18,179.09 L410.66,178.96 L411.14,178.82 L411.61,178.69 L412.09,178.56 L412.57,178.43 L413.05,178.29 L413.52,178.16 L414.00,178.03 L414.48,177.90 L414.95,177.77 L415.43,177.64 L415.91,177.50 L416.39,177.37 L416.86,177.24 L417.34,177.11" fill="none" stroke="#4a8ccc" stroke-width="3.2" stroke-linejoin="round" stroke-linecap="butt" clip-path="url(#cd)"/>
<path d="M245.56,286.74 L246.04,286.54 L246.51,286.35 L246.99,286.16 L247.47,285.96 L247.95,285.77 L248.42,285.57 L248.90,285.38 L249.38,285.18 L249.85,284.99 L250.33,284.79 L250.81,284.60 L251.29,284.40 L251.76,284.21 L252.24,284.01 L252.72,283.81 L253.19,283.61 L253.67,283.42 L254.15,283.22 L254.63,283.02 L255.10,282.82 L255.58,282.63 L256.06,282.43 L256.53,282.23 L257.01,282.03 L257.49,281.83 L257.97,281.63 L258.44,281.43 L258.92,281.23 L259.40,281.02 L259.88,280.82 L260.35,280.62 L260.83,280.42 L261.31,280.21 L261.78,280.01 L262.26,279.81 L262.74,279.60 L263.22,279.40 L263.69,279.19 L264.17,278.98 L264.65,278.78 L265.12,278.57 L265.60,278.36 L266.08,278.15 L266.56,277.94 L267.03,277.73 L267.51,277.52 L267.99,277.31 L268.46,277.10 L268.94,276.89 L269.42,276.68 L269.90,276.46 L270.37,276.25 L270.85,276.03 L271.33,275.82 L271.80,275.60 L272.28,275.38 L272.76,275.17 L273.24,274.95 L273.71,274.73 L274.19,274.50 L274.67,274.28 L275.14,274.06 L275.62,273.84 L276.10,273.61 L276.58,273.39 L277.05,273.16 L277.53,272.93 L278.01,272.70 L278.48,272.47 L278.96,272.24 L279.44,272.01 L279.92,271.78 L280.39,271.54 L280.87,271.30 L281.35,271.07 L281.82,270.83 L282.30,270.59 L282.78,270.35 L283.26,270.10 L283.73,269.86 L284.21,269.61 L284.69,269.37 L285.16,269.12 L285.64,268.87 L286.12,268.61 L286.60,268.36 L287.07,268.10 L287.55,267.84 L288.03,267.59 L288.50,267.32 L288.98,267.06 L289.46,266.79 L289.94,266.53 L290.41,266.26 L290.89,265.98 L291.37,265.71 L291.85,265.43 L292.32,265.15 L292.80,264.87 L293.28,264.59 L293.75,264.30 L294.23,264.01 L294.71,263.72 L295.19,263.43 L295.66,263.13 L296.14,262.83 L296.62,262.53 L297.09,262.22 L297.57,261.91 L298.05,261.60 L298.53,261.29 L299.00,260.97 L299.48,260.64 L299.96,260.32 L300.43,259.99 L300.91,259.65 L301.39,259.32 L301.87,258.98 L302.34,258.63 L302.82,258.28 L303.30,257.93 L303.77,257.57 L304.25,257.21 L304.73,256.84 L305.21,256.47 L305.68,256.09 L306.16,255.71 L306.64,255.33 L307.11,254.93 L307.59,254.54 L308.07,254.14 L308.55,253.73 L309.02,253.31 L309.50,252.89 L309.98,252.47 L310.45,252.04 L310.93,251.60 L311.41,251.15 L311.89,250.70 L312.36,250.24 L312.84,249.78 L313.32,249.31 L313.79,248.83 L314.27,248.34 L314.75,247.84 L315.23,247.34 L315.70,246.83 L316.18,246.31 L316.66,245.78 L317.13,245.24 L317.61,244.69 L318.09,244.14 L318.57,243.57 L319.04,243.00 L319.52,242.41 L320.00,241.82 L320.48,241.21 L320.95,240.59 L321.43,239.96 L321.91,239.32 L322.38,238.67 L322.86,238.01 L323.34,237.33 L323.82,236.64 L324.29,235.94 L324.77,235.23 L325.25,234.50 L325.72,233.75 L326.20,233.00 L326.68,232.22 L327.16,231.44 L327.63,230.63 L328.11,229.82 L328.59,228.98 L329.06,228.13 L329.54,227.26 L330.02,226.37 L330.50,225.47 L330.97,224.54 L331.45,223.60 L331.93,222.66 L332.40,221.73 L332.88,220.83 L333.36,219.94 L333.84,219.07 L334.31,218.22 L334.79,217.38 L335.27,216.57 L335.74,215.76 L336.22,214.98 L336.70,214.20 L337.18,213.45 L337.65,212.70 L338.13,211.97 L338.61,211.26 L339.08,210.56 L339.56,209.87 L340.04,209.19 L340.52,208.53 L340.99,207.88 L341.47,207.24 L341.95,206.61 L342.42,205.99 L342.90,205.38 L343.38,204.79 L343.86,204.20 L344.33,203.63 L344.81,203.06 L345.29,202.51 L345.76,201.96 L346.24,201.42 L346.72,200.89 L347.20,200.37 L347.67,199.86 L348.15,199.36 L348.63,198.86 L349.11,198.37 L349.58,197.89 L350.06,197.42 L350.54,196.96 L351.01,196.50 L351.49,196.05 L351.97,195.60 L352.45,195.16 L352.92,194.73 L353.40,194.31 L353.88,193.89 L354.35,193.47 L354.83,193.06 L355.31,192.66 L355.79,192.27 L356.26,191.87 L356.74,191.49 L357.22,191.11 L357.69,190.73 L358.17,190.36 L358.65,189.99 L359.13,189.63 L359.60,189.27 L360.08,188.92 L360.56,188.57 L361.03,188.22 L361.51,187.88 L361.99,187.55 L362.47,187.21 L362.94,186.88 L363.42,186.56 L363.90,186.23 L364.37,185.91 L364.85,185.60 L365.33,185.29 L365.81,184.98 L366.28,184.67 L366.76,184.37 L367.24,184.07 L367.71,183.77 L368.19,183.48 L368.67,183.19 L369.15,182.90 L369.62,182.61 L370.10,182.33 L370.58,182.05 L371.05,181.77 L371.53,181.49 L372.01,181.22 L372.49,180.94 L372.96,180.67 L373.44,180.41 L373.92,180.14 L374.39,179.88 L374.87,179.61 L375.35,179.36 L375.83,179.10 L376.30,178.84 L376.78,178.59 L377.26,178.33 L377.74,178.08 L378.21,177.83 L378.69,177.59 L379.17,177.34 L379.64,177.10 L380.12,176.85 L380.60,176.61 L381.08,176.37 L381.55,176.13 L382.03,175.90 L382.51,175.66 L382.98,175.42 L383.46,175.19 L383.94,174.96 L384.42,174.73 L384.89,174.50 L385.37,174.27 L385.85,174.04 L386.32,173.81 L386.80,173.59 L387.28,173.36 L387.76,173.14 L388.23,172.92 L388.71,172.70 L389.19,172.47 L389.66,172.25 L390.14,172.03 L390.62,171.82 L391.10,171.60 L391.57,171.38 L392.05,171.17 L392.53,170.95 L393.00,170.74 L393.48,170.52 L393.96,170.31 L394.44,170.10 L394.91,169.89 L395.39,169.68 L395.87,169.47 L396.34,169.26 L396.82,169.05 L397.30,168.84 L397.78,168.63 L398.25,168.42 L398.73,168.22 L399.21,168.01 L399.68,167.80 L400.16,167.60 L400.64,167.39 L401.12,167.19 L401.59,166.99 L402.07,166.78 L402.55,166.58 L403.02,166.38 L403.50,166.18 L403.98,165.97 L404.46,165.77 L404.93,165.57 L405.41,165.37 L405.89,165.17 L406.37,164.97 L406.84,164.77 L407.32,164.57 L407.80,164.38 L408.27,164.18 L408.75,163.98 L409.23,163.78 L409.71,163.59 L410.18,163.39 L410.66,163.19 L411.14,162.99 L411.61,162.80 L412.09,162.60 L412.57,162.41 L413.05,162.21 L413.52,162.02 L414.00,161.82 L414.48,161.63 L414.95,161.43 L415.43,161.24 L415.91,161.04 L416.39,160.85 L416.86,160.66 L417.34,160.46" fill="none" stroke="#e82a2a" stroke-width="3.2" stroke-linejoin="round" stroke-linecap="butt" clip-path="url(#cd)"/>
<circle cx="293.38" cy="264.53" r="0.55" fill="#ffd8d8" clip-path="url(#cd)"/>
<circle cx="295.38" cy="263.31" r="0.55" fill="#ffd8d8" clip-path="url(#cd)"/>
<circle cx="297.39" cy="262.03" r="0.55" fill="#ffd8d8" clip-path="url(#cd)"/>
<circle cx="299.40" cy="260.70" r="0.55" fill="#ffd8d8" clip-path="url(#cd)"/>
<circle cx="301.41" cy="259.31" r="0.55" fill="#ffd8d8" clip-path="url(#cd)"/>
<circle cx="303.28" cy="257.94" r="0.55" fill="#ffd8d8" clip-path="url(#cd)"/>
<circle cx="305.15" cy="256.51" r="0.55" fill="#ffd8d8" clip-path="url(#cd)"/>
<circle cx="307.03" cy="255.01" r="0.55" fill="#ffd8d8" clip-path="url(#cd)"/>
<circle cx="308.90" cy="253.42" r="0.55" fill="#ffd8d8" clip-path="url(#cd)"/>
<circle cx="310.64" cy="251.87" r="0.55" fill="#ffd8d8" clip-path="url(#cd)"/>
<circle cx="312.38" cy="250.23" r="0.55" fill="#ffd8d8" clip-path="url(#cd)"/>
<circle cx="314.12" cy="248.50" r="0.55" fill="#ffd8d8" clip-path="url(#cd)"/>
<circle cx="315.73" cy="246.80" r="0.55" fill="#ffd8d8" clip-path="url(#cd)"/>
<circle cx="317.33" cy="245.02" r="0.55" fill="#ffd8d8" clip-path="url(#cd)"/>
<circle cx="318.94" cy="243.13" r="0.55" fill="#ffd8d8" clip-path="url(#cd)"/>
<circle cx="320.41" cy="241.29" r="0.55" fill="#ffd8d8" clip-path="url(#cd)"/>
<circle cx="321.88" cy="239.36" r="0.55" fill="#ffd8d8" clip-path="url(#cd)"/>
<circle cx="323.35" cy="237.31" r="0.55" fill="#ffd8d8" clip-path="url(#cd)"/>
<circle cx="324.69" cy="235.34" r="0.55" fill="#ffd8d8" clip-path="url(#cd)"/>
<circle cx="326.03" cy="233.27" r="0.55" fill="#ffd8d8" clip-path="url(#cd)"/>
<circle cx="327.23" cy="231.31" r="0.55" fill="#ffd8d8" clip-path="url(#cd)"/>
<circle cx="328.44" cy="229.24" r="0.55" fill="#ffd8d8" clip-path="url(#cd)"/>
<circle cx="329.64" cy="227.07" r="0.55" fill="#ffd8d8" clip-path="url(#cd)"/>
<circle cx="330.85" cy="224.79" r="0.55" fill="#ffd8d8" clip-path="url(#cd)"/>
<circle cx="331.92" cy="222.67" r="0.55" fill="#ffd8d8" clip-path="url(#cd)"/>
<circle cx="332.99" cy="220.63" r="0.55" fill="#ffd8d8" clip-path="url(#cd)"/>
<circle cx="334.19" cy="218.43" r="0.55" fill="#ffd8d8" clip-path="url(#cd)"/>
<circle cx="335.40" cy="216.34" r="0.55" fill="#ffd8d8" clip-path="url(#cd)"/>
<circle cx="336.60" cy="214.36" r="0.55" fill="#ffd8d8" clip-path="url(#cd)"/>
<circle cx="337.94" cy="212.26" r="0.55" fill="#ffd8d8" clip-path="url(#cd)"/>
<circle cx="339.28" cy="210.28" r="0.55" fill="#ffd8d8" clip-path="url(#cd)"/>
<circle cx="340.62" cy="208.39" r="0.55" fill="#ffd8d8" clip-path="url(#cd)"/>
<circle cx="342.09" cy="206.42" r="0.55" fill="#ffd8d8" clip-path="url(#cd)"/>
<circle cx="343.56" cy="204.56" r="0.55" fill="#ffd8d8" clip-path="url(#cd)"/>
<circle cx="345.17" cy="202.64" r="0.55" fill="#ffd8d8" clip-path="url(#cd)"/>
<circle cx="346.77" cy="200.83" r="0.55" fill="#ffd8d8" clip-path="url(#cd)"/>
<circle cx="348.38" cy="199.12" r="0.55" fill="#ffd8d8" clip-path="url(#cd)"/>
<circle cx="350.12" cy="197.36" r="0.55" fill="#ffd8d8" clip-path="url(#cd)"/>
<circle cx="351.86" cy="195.70" r="0.55" fill="#ffd8d8" clip-path="url(#cd)"/>
<circle cx="353.60" cy="194.13" r="0.55" fill="#ffd8d8" clip-path="url(#cd)"/>
<circle cx="355.47" cy="192.53" r="0.55" fill="#ffd8d8" clip-path="url(#cd)"/>
<circle cx="357.35" cy="191.00" r="0.55" fill="#ffd8d8" clip-path="url(#cd)"/>
<circle cx="359.22" cy="189.56" r="0.55" fill="#ffd8d8" clip-path="url(#cd)"/>
<circle cx="361.09" cy="188.18" r="0.55" fill="#ffd8d8" clip-path="url(#cd)"/>
<circle cx="363.10" cy="186.77" r="0.55" fill="#ffd8d8" clip-path="url(#cd)"/>
<circle cx="365.11" cy="185.43" r="0.55" fill="#ffd8d8" clip-path="url(#cd)"/>
<circle cx="367.12" cy="184.14" r="0.55" fill="#ffd8d8" clip-path="url(#cd)"/>
<circle cx="369.12" cy="182.91" r="0.55" fill="#ffd8d8" clip-path="url(#cd)"/>
<circle cx="371.13" cy="181.72" r="0.55" fill="#ffd8d8" clip-path="url(#cd)"/>
<line x1="258.20" y1="172.60" x2="276.60" y2="172.60" stroke="#f07070" stroke-width="1.0" />
<circle cx="267.30" cy="172.60" r="1.2" fill="#e82a2a" />
<text x="279.60" y="175.45" font-size="8.0" text-anchor="start" font-weight="bold" font-style="normal" fill="#e82a2a"  stroke="#e82a2a" stroke-width="0.22">500 K</text>
<line x1="258.20" y1="182.00" x2="276.60" y2="182.00" stroke="#a8c8e8" stroke-width="1.0" />
<circle cx="267.30" cy="182.00" r="1.2" fill="#4a8ccc" />
<text x="279.60" y="184.85" font-size="8.0" text-anchor="start" font-weight="bold" font-style="normal" fill="#4a8ccc"  stroke="#4a8ccc" stroke-width="0.22">600 K</text>
<line x1="258.20" y1="191.40" x2="276.60" y2="191.40" stroke="#c89070" stroke-width="1.0" />
<circle cx="267.30" cy="191.40" r="1.2" fill="#a85a2a" />
<text x="279.60" y="194.25" font-size="8.0" text-anchor="start" font-weight="bold" font-style="normal" fill="#a85a2a"  stroke="#a85a2a" stroke-width="0.22">800 K</text>
<text x="352.00" y="175.10" font-size="8.3" text-anchor="middle" font-weight="bold" font-style="normal" fill="#1a1a1a" word-spacing="0.9" stroke="#1a1a1a" stroke-width="0.22"><tspan font-style="italic">H</tspan> <tspan font-style="italic" font-weight="normal">//</tspan> ab</text>
<text x="215.00" y="167.70" font-size="8.6" text-anchor="start" font-weight="bold" font-style="normal" fill="#1a1a1a"  stroke="#1a1a1a" stroke-width="0.22">(d)</text>
<text x="333.40" y="300.60" font-size="7.8" text-anchor="middle" font-weight="bold" font-style="normal" fill="#1a1a1a"  stroke="#1a1a1a" stroke-width="0.22"><tspan font-style="italic">H</tspan> (kOe)</text>
<text x="0.00" y="0.00" font-size="8.0" text-anchor="middle" font-weight="bold" font-style="normal" fill="#1a1a1a" transform="translate(219.3,226.6) rotate(-90)" stroke="#1a1a1a" stroke-width="0.22"><tspan font-style="italic">M</tspan> (emu/g)</text>
<rect x="350.40" y="228.30" width="63.10" height="44.30" fill="#ffffff" stroke="none" stroke-width="0" />
<clipPath id="cj"><rect x="350.4" y="228.3" width="63.1" height="44.3"/></clipPath>
<line x1="350.40" y1="251.50" x2="413.50" y2="251.50" stroke="#222" stroke-width="1.1" />
<line x1="381.50" y1="228.30" x2="381.50" y2="272.60" stroke="#555" stroke-width="1.3" />
<path d="M348.37,259.10 L349.95,258.74 L351.53,258.37 L353.11,258.01 L354.68,257.65 L356.26,257.29 L357.84,256.93 L359.42,256.56 L360.99,256.20 L362.57,255.84 L364.15,255.48 L365.73,255.12 L367.30,254.76 L368.88,254.39 L370.46,254.03 L372.03,253.67 L373.61,253.31 L375.19,252.95 L376.77,252.59 L378.35,252.22 L379.92,251.86 L381.50,251.50 L383.08,251.14 L384.66,250.78 L386.23,250.41 L387.81,250.05 L389.39,249.69 L390.97,249.33 L392.54,248.97 L394.12,248.61 L395.70,248.24 L397.27,247.88 L398.85,247.52 L400.43,247.16 L402.01,246.80 L403.59,246.44 L405.16,246.07 L406.74,245.71 L408.32,245.35 L409.90,244.99 L411.47,244.63 L413.05,244.26 L414.63,243.90" fill="none" stroke="#a85a2a" stroke-width="2.0" stroke-linejoin="round" stroke-linecap="butt" clip-path="url(#cj)"/>
<circle cx="349.95" cy="258.74" r="0.5" fill="#d8a080" clip-path="url(#cj)"/>
<circle cx="352.58" cy="258.13" r="0.5" fill="#d8a080" clip-path="url(#cj)"/>
<circle cx="355.21" cy="257.53" r="0.5" fill="#d8a080" clip-path="url(#cj)"/>
<circle cx="357.84" cy="256.93" r="0.5" fill="#d8a080" clip-path="url(#cj)"/>
<circle cx="360.47" cy="256.32" r="0.5" fill="#d8a080" clip-path="url(#cj)"/>
<circle cx="363.10" cy="255.72" r="0.5" fill="#d8a080" clip-path="url(#cj)"/>
<circle cx="365.73" cy="255.12" r="0.5" fill="#d8a080" clip-path="url(#cj)"/>
<circle cx="368.35" cy="254.51" r="0.5" fill="#d8a080" clip-path="url(#cj)"/>
<circle cx="370.98" cy="253.91" r="0.5" fill="#d8a080" clip-path="url(#cj)"/>
<circle cx="373.61" cy="253.31" r="0.5" fill="#d8a080" clip-path="url(#cj)"/>
<circle cx="376.24" cy="252.71" r="0.5" fill="#d8a080" clip-path="url(#cj)"/>
<circle cx="378.87" cy="252.10" r="0.5" fill="#d8a080" clip-path="url(#cj)"/>
<circle cx="381.50" cy="251.50" r="0.5" fill="#d8a080" clip-path="url(#cj)"/>
<circle cx="384.13" cy="250.90" r="0.5" fill="#d8a080" clip-path="url(#cj)"/>
<circle cx="386.76" cy="250.29" r="0.5" fill="#d8a080" clip-path="url(#cj)"/>
<circle cx="389.39" cy="249.69" r="0.5" fill="#d8a080" clip-path="url(#cj)"/>
<circle cx="392.02" cy="249.09" r="0.5" fill="#d8a080" clip-path="url(#cj)"/>
<circle cx="394.65" cy="248.49" r="0.5" fill="#d8a080" clip-path="url(#cj)"/>
<circle cx="397.27" cy="247.88" r="0.5" fill="#d8a080" clip-path="url(#cj)"/>
<circle cx="399.90" cy="247.28" r="0.5" fill="#d8a080" clip-path="url(#cj)"/>
<circle cx="402.53" cy="246.68" r="0.5" fill="#d8a080" clip-path="url(#cj)"/>
<circle cx="405.16" cy="246.07" r="0.5" fill="#d8a080" clip-path="url(#cj)"/>
<circle cx="407.79" cy="245.47" r="0.5" fill="#d8a080" clip-path="url(#cj)"/>
<circle cx="410.42" cy="244.87" r="0.5" fill="#d8a080" clip-path="url(#cj)"/>
<circle cx="413.05" cy="244.26" r="0.5" fill="#d8a080" clip-path="url(#cj)"/>
<path d="M348.37,269.88 L349.95,269.07 L351.53,268.26 L353.11,267.45 L354.68,266.64 L356.26,265.82 L357.84,265.01 L359.42,264.20 L360.99,263.39 L362.57,262.57 L364.15,261.76 L365.73,260.95 L367.30,260.14 L368.88,259.33 L370.46,258.51 L372.03,257.70 L373.61,256.89 L375.19,256.08 L376.77,255.27 L378.35,254.45 L379.92,253.64 L381.50,252.83 L383.08,252.02 L384.66,251.20 L386.23,250.39 L387.81,249.58 L389.39,248.77 L390.97,247.96 L392.54,247.14 L394.12,246.33 L395.70,245.52 L397.27,244.71 L398.85,243.90 L400.43,243.08 L402.01,242.27 L403.59,241.46 L405.16,240.65 L406.74,239.83 L408.32,239.02 L409.90,238.21 L411.47,237.40 L413.05,236.59 L414.63,235.77" fill="none" stroke="#4a8ccc" stroke-width="1.4" stroke-linejoin="round" stroke-linecap="butt" clip-path="url(#cj)"/>
<circle cx="349.95" cy="269.07" r="0.45" fill="#c8e0f4" clip-path="url(#cj)"/>
<circle cx="353.10" cy="267.45" r="0.45" fill="#c8e0f4" clip-path="url(#cj)"/>
<circle cx="356.26" cy="265.82" r="0.45" fill="#c8e0f4" clip-path="url(#cj)"/>
<circle cx="359.41" cy="264.20" r="0.45" fill="#c8e0f4" clip-path="url(#cj)"/>
<circle cx="362.57" cy="262.57" r="0.45" fill="#c8e0f4" clip-path="url(#cj)"/>
<circle cx="365.73" cy="260.95" r="0.45" fill="#c8e0f4" clip-path="url(#cj)"/>
<circle cx="368.88" cy="259.33" r="0.45" fill="#c8e0f4" clip-path="url(#cj)"/>
<circle cx="372.03" cy="257.70" r="0.45" fill="#c8e0f4" clip-path="url(#cj)"/>
<circle cx="375.19" cy="256.08" r="0.45" fill="#c8e0f4" clip-path="url(#cj)"/>
<circle cx="378.34" cy="254.45" r="0.45" fill="#c8e0f4" clip-path="url(#cj)"/>
<circle cx="381.50" cy="252.83" r="0.45" fill="#c8e0f4" clip-path="url(#cj)"/>
<circle cx="384.65" cy="251.20" r="0.45" fill="#c8e0f4" clip-path="url(#cj)"/>
<circle cx="387.81" cy="249.58" r="0.45" fill="#c8e0f4" clip-path="url(#cj)"/>
<circle cx="390.97" cy="247.96" r="0.45" fill="#c8e0f4" clip-path="url(#cj)"/>
<circle cx="394.12" cy="246.33" r="0.45" fill="#c8e0f4" clip-path="url(#cj)"/>
<circle cx="397.27" cy="244.71" r="0.45" fill="#c8e0f4" clip-path="url(#cj)"/>
<circle cx="400.43" cy="243.08" r="0.45" fill="#c8e0f4" clip-path="url(#cj)"/>
<circle cx="403.59" cy="241.46" r="0.45" fill="#c8e0f4" clip-path="url(#cj)"/>
<circle cx="406.74" cy="239.83" r="0.45" fill="#c8e0f4" clip-path="url(#cj)"/>
<circle cx="409.89" cy="238.21" r="0.45" fill="#c8e0f4" clip-path="url(#cj)"/>
<circle cx="413.05" cy="236.59" r="0.45" fill="#c8e0f4" clip-path="url(#cj)"/>
<path d="M348.37,267.23 L349.95,266.41 L351.53,265.60 L353.11,264.79 L354.68,263.98 L356.26,263.17 L357.84,262.35 L359.42,261.54 L360.99,260.73 L362.57,259.92 L364.15,259.10 L365.73,258.29 L367.30,257.48 L368.88,256.67 L370.46,255.86 L372.03,255.04 L373.61,254.23 L375.19,253.42 L376.77,252.61 L378.35,251.80 L379.92,250.98 L381.50,250.17 L383.08,249.36 L384.66,248.55 L386.23,247.73 L387.81,246.92 L389.39,246.11 L390.97,245.30 L392.54,244.49 L394.12,243.67 L395.70,242.86 L397.27,242.05 L398.85,241.24 L400.43,240.42 L402.01,239.61 L403.59,238.80 L405.16,237.99 L406.74,237.18 L408.32,236.36 L409.90,235.55 L411.47,234.74 L413.05,233.93 L414.63,233.12" fill="none" stroke="#4a8ccc" stroke-width="1.4" stroke-linejoin="round" stroke-linecap="butt" clip-path="url(#cj)"/>
<circle cx="349.95" cy="266.41" r="0.45" fill="#c8e0f4" clip-path="url(#cj)"/>
<circle cx="353.10" cy="264.79" r="0.45" fill="#c8e0f4" clip-path="url(#cj)"/>
<circle cx="356.26" cy="263.17" r="0.45" fill="#c8e0f4" clip-path="url(#cj)"/>
<circle cx="359.41" cy="261.54" r="0.45" fill="#c8e0f4" clip-path="url(#cj)"/>
<circle cx="362.57" cy="259.92" r="0.45" fill="#c8e0f4" clip-path="url(#cj)"/>
<circle cx="365.73" cy="258.29" r="0.45" fill="#c8e0f4" clip-path="url(#cj)"/>
<circle cx="368.88" cy="256.67" r="0.45" fill="#c8e0f4" clip-path="url(#cj)"/>
<circle cx="372.03" cy="255.04" r="0.45" fill="#c8e0f4" clip-path="url(#cj)"/>
<circle cx="375.19" cy="253.42" r="0.45" fill="#c8e0f4" clip-path="url(#cj)"/>
<circle cx="378.34" cy="251.80" r="0.45" fill="#c8e0f4" clip-path="url(#cj)"/>
<circle cx="381.50" cy="250.17" r="0.45" fill="#c8e0f4" clip-path="url(#cj)"/>
<circle cx="384.65" cy="248.55" r="0.45" fill="#c8e0f4" clip-path="url(#cj)"/>
<circle cx="387.81" cy="246.92" r="0.45" fill="#c8e0f4" clip-path="url(#cj)"/>
<circle cx="390.97" cy="245.30" r="0.45" fill="#c8e0f4" clip-path="url(#cj)"/>
<circle cx="394.12" cy="243.67" r="0.45" fill="#c8e0f4" clip-path="url(#cj)"/>
<circle cx="397.27" cy="242.05" r="0.45" fill="#c8e0f4" clip-path="url(#cj)"/>
<circle cx="400.43" cy="240.43" r="0.45" fill="#c8e0f4" clip-path="url(#cj)"/>
<circle cx="403.59" cy="238.80" r="0.45" fill="#c8e0f4" clip-path="url(#cj)"/>
<circle cx="406.74" cy="237.18" r="0.45" fill="#c8e0f4" clip-path="url(#cj)"/>
<circle cx="409.89" cy="235.55" r="0.45" fill="#c8e0f4" clip-path="url(#cj)"/>
<circle cx="413.05" cy="233.93" r="0.45" fill="#c8e0f4" clip-path="url(#cj)"/>
<path d="M348.37,276.53 L349.95,275.50 L351.53,274.46 L353.11,273.43 L354.68,272.39 L356.26,271.36 L357.84,270.33 L359.42,269.29 L360.99,268.26 L362.57,267.23 L364.15,266.19 L365.73,265.16 L367.30,264.13 L368.88,263.09 L370.46,262.06 L372.03,261.02 L373.61,259.99 L375.19,258.96 L376.77,257.92 L378.35,256.89 L379.92,255.86 L381.50,254.82 L383.08,253.79 L384.66,252.76 L386.23,251.72 L387.81,250.69 L389.39,249.65 L390.97,248.62 L392.54,247.59 L394.12,246.55 L395.70,245.52 L397.27,244.49 L398.85,243.45 L400.43,242.42 L402.01,241.38 L403.59,240.35 L405.16,239.32 L406.74,238.28 L408.32,237.25 L409.90,236.22 L411.47,235.18 L413.05,234.15 L414.63,233.12" fill="none" stroke="#e82a2a" stroke-width="0.7" stroke-linejoin="round" stroke-linecap="butt" clip-path="url(#cj)"/>
<circle cx="348.37" cy="276.53" r="1.2" fill="#e82a2a" clip-path="url(#cj)"/>
<circle cx="348.07" cy="276.23" r="0.45" fill="#ffd0d0" clip-path="url(#cj)"/>
<circle cx="352.51" cy="273.82" r="1.2" fill="#e82a2a" clip-path="url(#cj)"/>
<circle cx="352.21" cy="273.52" r="0.45" fill="#ffd0d0" clip-path="url(#cj)"/>
<circle cx="356.65" cy="271.10" r="1.2" fill="#e82a2a" clip-path="url(#cj)"/>
<circle cx="356.35" cy="270.80" r="0.45" fill="#ffd0d0" clip-path="url(#cj)"/>
<circle cx="360.80" cy="268.39" r="1.2" fill="#e82a2a" clip-path="url(#cj)"/>
<circle cx="360.50" cy="268.09" r="0.45" fill="#ffd0d0" clip-path="url(#cj)"/>
<circle cx="364.94" cy="265.68" r="1.2" fill="#e82a2a" clip-path="url(#cj)"/>
<circle cx="364.64" cy="265.38" r="0.45" fill="#ffd0d0" clip-path="url(#cj)"/>
<circle cx="369.08" cy="262.96" r="1.2" fill="#e82a2a" clip-path="url(#cj)"/>
<circle cx="368.78" cy="262.66" r="0.45" fill="#ffd0d0" clip-path="url(#cj)"/>
<circle cx="373.22" cy="260.25" r="1.2" fill="#e82a2a" clip-path="url(#cj)"/>
<circle cx="372.92" cy="259.95" r="0.45" fill="#ffd0d0" clip-path="url(#cj)"/>
<circle cx="377.36" cy="257.54" r="1.2" fill="#e82a2a" clip-path="url(#cj)"/>
<circle cx="377.06" cy="257.24" r="0.45" fill="#ffd0d0" clip-path="url(#cj)"/>
<circle cx="381.50" cy="254.82" r="1.2" fill="#e82a2a" clip-path="url(#cj)"/>
<circle cx="381.20" cy="254.52" r="0.45" fill="#ffd0d0" clip-path="url(#cj)"/>
<circle cx="385.64" cy="252.11" r="1.2" fill="#e82a2a" clip-path="url(#cj)"/>
<circle cx="385.34" cy="251.81" r="0.45" fill="#ffd0d0" clip-path="url(#cj)"/>
<circle cx="389.78" cy="249.40" r="1.2" fill="#e82a2a" clip-path="url(#cj)"/>
<circle cx="389.48" cy="249.10" r="0.45" fill="#ffd0d0" clip-path="url(#cj)"/>
<circle cx="393.92" cy="246.68" r="1.2" fill="#e82a2a" clip-path="url(#cj)"/>
<circle cx="393.62" cy="246.38" r="0.45" fill="#ffd0d0" clip-path="url(#cj)"/>
<circle cx="398.06" cy="243.97" r="1.2" fill="#e82a2a" clip-path="url(#cj)"/>
<circle cx="397.76" cy="243.67" r="0.45" fill="#ffd0d0" clip-path="url(#cj)"/>
<circle cx="402.20" cy="241.26" r="1.2" fill="#e82a2a" clip-path="url(#cj)"/>
<circle cx="401.90" cy="240.96" r="0.45" fill="#ffd0d0" clip-path="url(#cj)"/>
<circle cx="406.35" cy="238.54" r="1.2" fill="#e82a2a" clip-path="url(#cj)"/>
<circle cx="406.05" cy="238.24" r="0.45" fill="#ffd0d0" clip-path="url(#cj)"/>
<circle cx="410.49" cy="235.83" r="1.2" fill="#e82a2a" clip-path="url(#cj)"/>
<circle cx="410.19" cy="235.53" r="0.45" fill="#ffd0d0" clip-path="url(#cj)"/>
<circle cx="414.63" cy="233.12" r="1.2" fill="#e82a2a" clip-path="url(#cj)"/>
<circle cx="414.33" cy="232.82" r="0.45" fill="#ffd0d0" clip-path="url(#cj)"/>
<path d="M348.37,269.88 L349.95,268.85 L351.53,267.82 L353.11,266.78 L354.68,265.75 L356.26,264.72 L357.84,263.68 L359.42,262.65 L360.99,261.62 L362.57,260.58 L364.15,259.55 L365.73,258.51 L367.30,257.48 L368.88,256.45 L370.46,255.41 L372.03,254.38 L373.61,253.35 L375.19,252.31 L376.77,251.28 L378.35,250.24 L379.92,249.21 L381.50,248.18 L383.08,247.14 L384.66,246.11 L386.23,245.08 L387.81,244.04 L389.39,243.01 L390.97,241.98 L392.54,240.94 L394.12,239.91 L395.70,238.87 L397.27,237.84 L398.85,236.81 L400.43,235.77 L402.01,234.74 L403.59,233.71 L405.16,232.67 L406.74,231.64 L408.32,230.61 L409.90,229.57 L411.47,228.54 L413.05,227.50 L414.63,226.47" fill="none" stroke="#e82a2a" stroke-width="0.7" stroke-linejoin="round" stroke-linecap="butt" clip-path="url(#cj)"/>
<circle cx="348.37" cy="269.88" r="1.2" fill="#e82a2a" clip-path="url(#cj)"/>
<circle cx="348.07" cy="269.58" r="0.45" fill="#ffd0d0" clip-path="url(#cj)"/>
<circle cx="352.51" cy="267.17" r="1.2" fill="#e82a2a" clip-path="url(#cj)"/>
<circle cx="352.21" cy="266.87" r="0.45" fill="#ffd0d0" clip-path="url(#cj)"/>
<circle cx="356.65" cy="264.46" r="1.2" fill="#e82a2a" clip-path="url(#cj)"/>
<circle cx="356.35" cy="264.16" r="0.45" fill="#ffd0d0" clip-path="url(#cj)"/>
<circle cx="360.80" cy="261.74" r="1.2" fill="#e82a2a" clip-path="url(#cj)"/>
<circle cx="360.50" cy="261.44" r="0.45" fill="#ffd0d0" clip-path="url(#cj)"/>
<circle cx="364.94" cy="259.03" r="1.2" fill="#e82a2a" clip-path="url(#cj)"/>
<circle cx="364.64" cy="258.73" r="0.45" fill="#ffd0d0" clip-path="url(#cj)"/>
<circle cx="369.08" cy="256.32" r="1.2" fill="#e82a2a" clip-path="url(#cj)"/>
<circle cx="368.78" cy="256.02" r="0.45" fill="#ffd0d0" clip-path="url(#cj)"/>
<circle cx="373.22" cy="253.60" r="1.2" fill="#e82a2a" clip-path="url(#cj)"/>
<circle cx="372.92" cy="253.30" r="0.45" fill="#ffd0d0" clip-path="url(#cj)"/>
<circle cx="377.36" cy="250.89" r="1.2" fill="#e82a2a" clip-path="url(#cj)"/>
<circle cx="377.06" cy="250.59" r="0.45" fill="#ffd0d0" clip-path="url(#cj)"/>
<circle cx="381.50" cy="248.18" r="1.2" fill="#e82a2a" clip-path="url(#cj)"/>
<circle cx="381.20" cy="247.88" r="0.45" fill="#ffd0d0" clip-path="url(#cj)"/>
<circle cx="385.64" cy="245.46" r="1.2" fill="#e82a2a" clip-path="url(#cj)"/>
<circle cx="385.34" cy="245.16" r="0.45" fill="#ffd0d0" clip-path="url(#cj)"/>
<circle cx="389.78" cy="242.75" r="1.2" fill="#e82a2a" clip-path="url(#cj)"/>
<circle cx="389.48" cy="242.45" r="0.45" fill="#ffd0d0" clip-path="url(#cj)"/>
<circle cx="393.92" cy="240.04" r="1.2" fill="#e82a2a" clip-path="url(#cj)"/>
<circle cx="393.62" cy="239.74" r="0.45" fill="#ffd0d0" clip-path="url(#cj)"/>
<circle cx="398.06" cy="237.32" r="1.2" fill="#e82a2a" clip-path="url(#cj)"/>
<circle cx="397.76" cy="237.02" r="0.45" fill="#ffd0d0" clip-path="url(#cj)"/>
<circle cx="402.20" cy="234.61" r="1.2" fill="#e82a2a" clip-path="url(#cj)"/>
<circle cx="401.90" cy="234.31" r="0.45" fill="#ffd0d0" clip-path="url(#cj)"/>
<circle cx="406.35" cy="231.90" r="1.2" fill="#e82a2a" clip-path="url(#cj)"/>
<circle cx="406.05" cy="231.60" r="0.45" fill="#ffd0d0" clip-path="url(#cj)"/>
<circle cx="410.49" cy="229.18" r="1.2" fill="#e82a2a" clip-path="url(#cj)"/>
<circle cx="410.19" cy="228.88" r="0.45" fill="#ffd0d0" clip-path="url(#cj)"/>
<circle cx="414.63" cy="226.47" r="1.2" fill="#e82a2a" clip-path="url(#cj)"/>
<circle cx="414.33" cy="226.17" r="0.45" fill="#ffd0d0" clip-path="url(#cj)"/>
<rect x="350.40" y="228.30" width="63.10" height="44.30" fill="none" stroke="#1f1f1f" stroke-width="1.0" />
<text x="348.60" y="230.40" font-size="6.2" text-anchor="end" font-weight="normal" font-style="normal" fill="#1a1a1a" stroke="#1a1a1a" stroke-width="0.25">3</text>
<text x="348.60" y="253.10" font-size="6.2" text-anchor="end" font-weight="normal" font-style="normal" fill="#1a1a1a" stroke="#1a1a1a" stroke-width="0.25">0</text>
<text x="348.60" y="274.80" font-size="6.2" text-anchor="end" font-weight="normal" font-style="normal" fill="#1a1a1a" stroke="#1a1a1a" stroke-width="0.25">-3</text>
<text x="350.95" y="278.40" font-size="6.2" text-anchor="middle" font-weight="normal" font-style="normal" fill="#1a1a1a" stroke="#1a1a1a" stroke-width="0.25">-0.4</text>
<text x="381.50" y="278.40" font-size="6.2" text-anchor="middle" font-weight="normal" font-style="normal" fill="#1a1a1a" stroke="#1a1a1a" stroke-width="0.25">0.0</text>
<text x="413.05" y="278.40" font-size="6.2" text-anchor="middle" font-weight="normal" font-style="normal" fill="#1a1a1a" stroke="#1a1a1a" stroke-width="0.25">0.4</text>
<text x="381.40" y="284.80" font-size="7.4" text-anchor="middle" font-weight="bold" font-style="normal" fill="#1a1a1a"  stroke="#1a1a1a" stroke-width="0.22"><tspan font-style="italic">H</tspan> (kOe)</text>
<text x="0.00" y="0.00" font-size="6.0" text-anchor="middle" font-weight="normal" font-style="normal" fill="#1a1a1a" transform="translate(344.0,252.0) rotate(-90)" stroke="#1a1a1a" stroke-width="0.25"><tspan font-style="italic" font-weight="bold">M</tspan> (10<tspan font-size="4.4" dy="-2.5">-3</tspan><tspan dy="2.5"> emu/g)</tspan></text>
<rect x="474.50" y="188.40" width="8.10" height="77.70" fill="#7bd0dc" stroke="#333" stroke-width="0.9" />
<rect x="494.60" y="176.40" width="8.10" height="89.70" fill="#7bd0dc" stroke="#333" stroke-width="0.9" />
<rect x="515.20" y="13.30" width="8.10" height="252.80" fill="#7bd0dc" stroke="#333" stroke-width="0.9" />
<rect x="535.50" y="122.20" width="8.10" height="143.90" fill="#e05252" stroke="#333" stroke-width="0.9" />
<rect x="556.10" y="153.20" width="8.10" height="112.90" fill="#5ed67b" stroke="#333" stroke-width="0.9" />
<rect x="576.50" y="168.60" width="8.10" height="97.50" fill="#5ed67b" stroke="#333" stroke-width="0.9" />
<rect x="596.60" y="173.70" width="8.10" height="92.40" fill="#5ed67b" stroke="#333" stroke-width="0.9" />
<rect x="617.30" y="236.20" width="8.10" height="29.90" fill="#5ed67b" stroke="#333" stroke-width="0.9" />
<rect x="637.60" y="245.90" width="8.10" height="20.20" fill="#5ed67b" stroke="#333" stroke-width="0.9" />
<line x1="462.10" y1="266.10" x2="465.10" y2="266.10" stroke="#1f1f1f" stroke-width="1" />
<line x1="462.10" y1="246.16" x2="463.60" y2="246.16" stroke="#1f1f1f" stroke-width="1" />
<line x1="462.10" y1="234.49" x2="463.60" y2="234.49" stroke="#1f1f1f" stroke-width="1" />
<line x1="462.10" y1="226.21" x2="463.60" y2="226.21" stroke="#1f1f1f" stroke-width="1" />
<line x1="462.10" y1="219.79" x2="463.60" y2="219.79" stroke="#1f1f1f" stroke-width="1" />
<line x1="462.10" y1="214.55" x2="463.60" y2="214.55" stroke="#1f1f1f" stroke-width="1" />
<line x1="462.10" y1="210.11" x2="463.60" y2="210.11" stroke="#1f1f1f" stroke-width="1" />
<line x1="462.10" y1="206.27" x2="463.60" y2="206.27" stroke="#1f1f1f" stroke-width="1" />
<line x1="462.10" y1="202.88" x2="463.60" y2="202.88" stroke="#1f1f1f" stroke-width="1" />
<line x1="462.10" y1="199.85" x2="465.10" y2="199.85" stroke="#1f1f1f" stroke-width="1" />
<line x1="462.10" y1="179.91" x2="463.60" y2="179.91" stroke="#1f1f1f" stroke-width="1" />
<line x1="462.10" y1="168.24" x2="463.60" y2="168.24" stroke="#1f1f1f" stroke-width="1" />
<line x1="462.10" y1="159.96" x2="463.60" y2="159.96" stroke="#1f1f1f" stroke-width="1" />
<line x1="462.10" y1="153.54" x2="463.60" y2="153.54" stroke="#1f1f1f" stroke-width="1" />
<line x1="462.10" y1="148.30" x2="463.60" y2="148.30" stroke="#1f1f1f" stroke-width="1" />
<line x1="462.10" y1="143.86" x2="463.60" y2="143.86" stroke="#1f1f1f" stroke-width="1" />
<line x1="462.10" y1="140.02" x2="463.60" y2="140.02" stroke="#1f1f1f" stroke-width="1" />
<line x1="462.10" y1="136.63" x2="463.60" y2="136.63" stroke="#1f1f1f" stroke-width="1" />
<line x1="462.10" y1="133.60" x2="465.10" y2="133.60" stroke="#1f1f1f" stroke-width="1" />
<line x1="462.10" y1="113.66" x2="463.60" y2="113.66" stroke="#1f1f1f" stroke-width="1" />
<line x1="462.10" y1="101.99" x2="463.60" y2="101.99" stroke="#1f1f1f" stroke-width="1" />
<line x1="462.10" y1="93.71" x2="463.60" y2="93.71" stroke="#1f1f1f" stroke-width="1" />
<line x1="462.10" y1="87.29" x2="463.60" y2="87.29" stroke="#1f1f1f" stroke-width="1" />
<line x1="462.10" y1="82.05" x2="463.60" y2="82.05" stroke="#1f1f1f" stroke-width="1" />
<line x1="462.10" y1="77.61" x2="463.60" y2="77.61" stroke="#1f1f1f" stroke-width="1" />
<line x1="462.10" y1="73.77" x2="463.60" y2="73.77" stroke="#1f1f1f" stroke-width="1" />
<line x1="462.10" y1="70.38" x2="463.60" y2="70.38" stroke="#1f1f1f" stroke-width="1" />
<line x1="462.10" y1="67.35" x2="465.10" y2="67.35" stroke="#1f1f1f" stroke-width="1" />
<line x1="462.10" y1="47.41" x2="463.60" y2="47.41" stroke="#1f1f1f" stroke-width="1" />
<line x1="462.10" y1="35.74" x2="463.60" y2="35.74" stroke="#1f1f1f" stroke-width="1" />
<line x1="462.10" y1="27.46" x2="463.60" y2="27.46" stroke="#1f1f1f" stroke-width="1" />
<line x1="462.10" y1="21.04" x2="463.60" y2="21.04" stroke="#1f1f1f" stroke-width="1" />
<line x1="462.10" y1="15.80" x2="463.60" y2="15.80" stroke="#1f1f1f" stroke-width="1" />
<line x1="462.10" y1="11.36" x2="463.60" y2="11.36" stroke="#1f1f1f" stroke-width="1" />
<text x="458.00" y="269.70" font-size="10.0" text-anchor="end" font-weight="bold" font-style="normal" fill="#1a1a1a"  stroke="#1a1a1a" stroke-width="0.22">10<tspan font-size="6.6" dy="-4.0">1</tspan></text>
<text x="458.00" y="203.45" font-size="10.0" text-anchor="end" font-weight="bold" font-style="normal" fill="#1a1a1a"  stroke="#1a1a1a" stroke-width="0.22">10<tspan font-size="6.6" dy="-4.0">2</tspan></text>
<text x="458.00" y="137.20" font-size="10.0" text-anchor="end" font-weight="bold" font-style="normal" fill="#1a1a1a"  stroke="#1a1a1a" stroke-width="0.22">10<tspan font-size="6.6" dy="-4.0">3</tspan></text>
<text x="458.00" y="70.95" font-size="10.0" text-anchor="end" font-weight="bold" font-style="normal" fill="#1a1a1a"  stroke="#1a1a1a" stroke-width="0.22">10<tspan font-size="6.6" dy="-4.0">4</tspan></text>
<line x1="462.10" y1="7.60" x2="655.80" y2="7.60" stroke="#1f1f1f" stroke-width="1.3" />
<line x1="462.10" y1="7.60" x2="462.10" y2="266.10" stroke="#1f1f1f" stroke-width="1.3" />
<line x1="462.10" y1="266.10" x2="655.80" y2="266.10" stroke="#1f1f1f" stroke-width="1.3" />
<line x1="655.80" y1="7.00" x2="655.80" y2="266.70" stroke="#d07a3a" stroke-width="1.3" />
<line x1="655.80" y1="266.10" x2="653.00" y2="266.10" stroke="#d07a3a" stroke-width="1.2" />
<line x1="655.80" y1="199.85" x2="653.00" y2="199.85" stroke="#d07a3a" stroke-width="1.2" />
<line x1="655.80" y1="133.60" x2="653.00" y2="133.60" stroke="#d07a3a" stroke-width="1.2" />
<line x1="655.80" y1="67.35" x2="653.00" y2="67.35" stroke="#d07a3a" stroke-width="1.2" />
<text x="662.00" y="269.40" font-size="10.8" text-anchor="start" font-weight="bold" font-style="normal" fill="#d07a3a"  stroke="#d07a3a" stroke-width="0.22">1</text>
<text x="660.60" y="200.00" font-size="10.2" text-anchor="start" font-weight="bold" font-style="normal" fill="#d07a3a"  stroke="#d07a3a" stroke-width="0.22">10</text>
<text x="660.60" y="131.80" font-size="10.2" text-anchor="start" font-weight="bold" font-style="normal" fill="#d07a3a"  stroke="#d07a3a" stroke-width="0.22">100</text>
<text x="660.40" y="63.60" font-size="10.2" text-anchor="start" font-weight="bold" font-style="normal" fill="#d07a3a"  stroke="#d07a3a" stroke-width="0.22">1000</text>
<text x="0.00" y="0.00" font-size="10.2" text-anchor="middle" font-weight="bold" font-style="italic" fill="#d07a3a" transform="translate(675.8,144.6) rotate(90)" stroke="#d07a3a" stroke-width="0.22">RRR</text>
<text x="0.00" y="0.00" font-size="10.6" text-anchor="middle" font-weight="bold" font-style="normal" fill="#1a1a1a" transform="translate(441.0,143.2) rotate(-90)" stroke="#1a1a1a" stroke-width="0.22">MR (%)</text>
<text x="432.80" y="8.40" font-size="8.2" text-anchor="start" font-weight="bold" font-style="normal" fill="#1a1a1a"  stroke="#1a1a1a" stroke-width="0.22">(e)</text>
<path d="M477.50,206.60 L498.80,97.00 L519.20,88.60 L540.60,14.20 L561.50,102.40 L582.00,226.10 L603.40,128.80 L624.00,201.00 L645.50,170.20" fill="none" stroke="#d2752e" stroke-width="1.0" stroke-linejoin="round" stroke-linecap="butt" />
<radialGradient id="ball" cx="0.35" cy="0.35" r="0.7"><stop offset="0" stop-color="#fff0e0"/><stop offset="0.3" stop-color="#e08040"/><stop offset="1" stop-color="#c05a10"/></radialGradient>
<circle cx="477.50" cy="206.60" r="3.4" fill="url(#ball)" />
<circle cx="498.80" cy="97.00" r="3.4" fill="url(#ball)" />
<circle cx="519.20" cy="88.60" r="3.4" fill="url(#ball)" />
<circle cx="540.60" cy="14.20" r="3.4" fill="url(#ball)" />
<circle cx="561.50" cy="102.40" r="3.4" fill="url(#ball)" />
<circle cx="582.00" cy="226.10" r="3.4" fill="url(#ball)" />
<circle cx="603.40" cy="128.80" r="3.4" fill="url(#ball)" />
<circle cx="624.00" cy="201.00" r="3.4" fill="url(#ball)" />
<circle cx="645.50" cy="170.20" r="3.4" fill="url(#ball)" />
<text x="482.60" y="215.50" font-size="8.1" text-anchor="start" font-weight="bold" font-style="normal" fill="#c8702a" stroke="#c8702a" stroke-width="0.35">7.4</text>
<text x="499.50" y="108.10" font-size="8.1" text-anchor="start" font-weight="bold" font-style="normal" fill="#c8702a" stroke="#c8702a" stroke-width="0.35">294</text>
<text x="525.50" y="95.90" font-size="8.1" text-anchor="start" font-weight="bold" font-style="normal" fill="#c8702a" stroke="#c8702a" stroke-width="0.35">394</text>
<text x="545.20" y="23.50" font-size="8.1" text-anchor="start" font-weight="bold" font-style="normal" fill="#c8702a" stroke="#c8702a" stroke-width="0.35">4778</text>
<text x="566.40" y="108.50" font-size="8.1" text-anchor="start" font-weight="bold" font-style="normal" fill="#c8702a" stroke="#c8702a" stroke-width="0.35">247</text>
<text x="584.60" y="235.40" font-size="8.1" text-anchor="start" font-weight="bold" font-style="normal" fill="#c8702a" stroke="#c8702a" stroke-width="0.35">3.8</text>
<text x="607.90" y="137.50" font-size="8.1" text-anchor="start" font-weight="bold" font-style="normal" fill="#c8702a" stroke="#c8702a" stroke-width="0.35">100</text>
<text x="626.10" y="213.40" font-size="8.1" text-anchor="middle" font-weight="bold" font-style="normal" fill="#c8702a" stroke="#c8702a" stroke-width="0.35">9</text>
<text x="644.30" y="182.80" font-size="8.1" text-anchor="start" font-weight="bold" font-style="normal" fill="#c8702a" stroke="#c8702a" stroke-width="0.35">25</text>
<line x1="564.10" y1="40.30" x2="588.50" y2="40.30" stroke="#d2752e" stroke-width="1.0" />
<circle cx="576.40" cy="40.30" r="3.4" fill="url(#ball)" />
<text x="591.40" y="44.00" font-size="9.2" text-anchor="start" font-weight="bold" font-style="italic" fill="#1a1a1a"  stroke="#1a1a1a" stroke-width="0.22">RRR</text>
<rect x="564.40" y="50.30" width="7.00" height="10.40" fill="#7bd0dc" stroke="#333" stroke-width="0.8" />
<rect x="571.40" y="50.30" width="7.00" height="10.40" fill="#e05252" stroke="#333" stroke-width="0.8" />
<rect x="578.40" y="50.30" width="7.00" height="10.40" fill="#5ed67b" stroke="#333" stroke-width="0.8" />
<text x="588.50" y="59.20" font-size="9.5" text-anchor="start" font-weight="bold" font-style="normal" fill="#1a1a1a"  stroke="#1a1a1a" stroke-width="0.22">MR at 2 K, 9 T</text>
<text x="0" y="0" font-size="9.3" text-anchor="end" font-weight="normal" fill="#1a1a1a" stroke="#1a1a1a" stroke-width="0.4" letter-spacing="0.25" transform="translate(474.00,274.40) rotate(-27)">GdPtBi</text>
<text x="0" y="0" font-size="9.5" text-anchor="end" font-weight="normal" fill="#1a1a1a" stroke="#1a1a1a" stroke-width="0.4" letter-spacing="0.25" transform="translate(493.80,272.80) rotate(-27)">FeSn</text>
<text x="0" y="0" font-size="9.5" text-anchor="end" font-weight="normal" fill="#1a1a1a" stroke="#1a1a1a" stroke-width="0.4" letter-spacing="0.25" transform="translate(520.50,273.00) rotate(-27)">EuGa<tspan font-size="5.8" dy="2.2">4</tspan></text>
<text x="0" y="0" font-size="11.2" text-anchor="end" font-weight="normal" fill="#e8262a" stroke="#e8262a" stroke-width="0.4" letter-spacing="0.25" transform="translate(547.00,272.50) rotate(-27)">Fe<tspan font-size="7.5" dy="2.8">2</tspan><tspan dy="-2.8">Ge</tspan><tspan font-size="7.5" dy="2.8">3</tspan></text>
<text x="0" y="0" font-size="9.5" text-anchor="end" font-weight="normal" fill="#1a1a1a" stroke="#1a1a1a" stroke-width="0.4" letter-spacing="0.25" transform="translate(566.20,272.80) rotate(-27)">CoS<tspan font-size="6.2" dy="2.2">2</tspan></text>
<text x="0" y="0" font-size="9.5" text-anchor="end" font-weight="normal" fill="#1a1a1a" stroke="#1a1a1a" stroke-width="0.4" letter-spacing="0.25" transform="translate(585.00,273.20) rotate(-27)">PrAlSi</text>
<text x="0" y="0" font-size="9.5" text-anchor="end" font-weight="normal" fill="#1a1a1a" stroke="#1a1a1a" stroke-width="0.4" letter-spacing="0.25" transform="translate(604.80,272.20) rotate(-27)">MnBi</text>
<text x="0" y="0" font-size="9.3" text-anchor="end" font-weight="normal" fill="#1a1a1a" stroke="#1a1a1a" stroke-width="0.4" letter-spacing="0.25" transform="translate(632.00,272.20) rotate(-27)">Co<tspan font-size="6.2" dy="2.2">3</tspan><tspan dy="-2.2">Sn</tspan><tspan font-size="6.2" dy="2.2">2</tspan><tspan dy="-2.2">S</tspan><tspan font-size="6.2" dy="2.2">2</tspan></text>
<text x="0" y="0" font-size="9.5" text-anchor="end" font-weight="normal" fill="#1a1a1a" stroke="#1a1a1a" stroke-width="0.4" letter-spacing="0.25" transform="translate(655.20,273.20) rotate(-27)">Fe<tspan font-size="6.2" dy="2.2">3</tspan><tspan dy="-2.2">Sn</tspan><tspan font-size="6.2" dy="2.2">2</tspan></text>
</svg></body></html>
